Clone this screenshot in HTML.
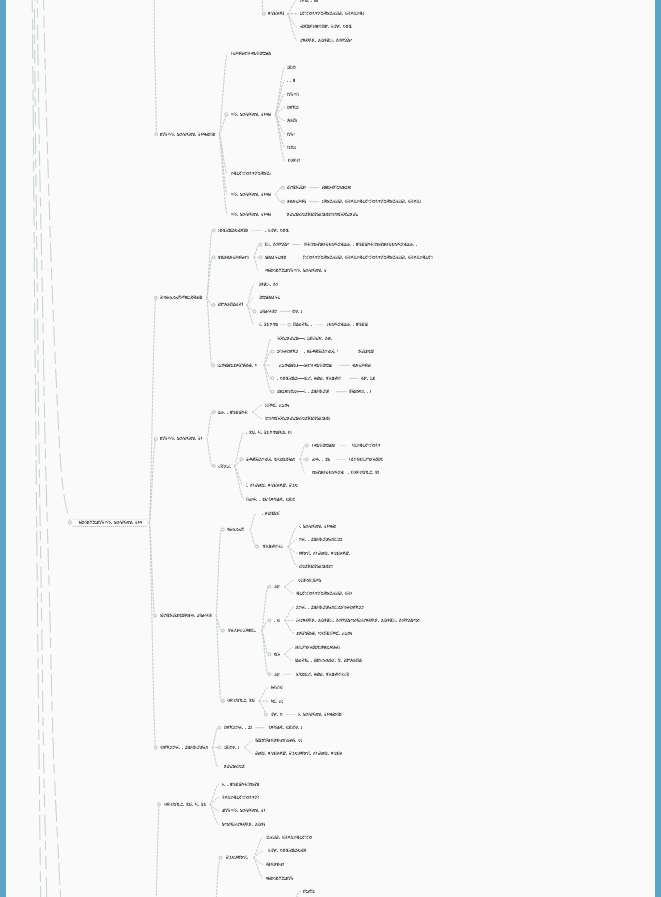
<!DOCTYPE html>
<html><head><meta charset="utf-8"><title>mindmap</title>
<style>
html,body{margin:0;padding:0;background:#fafafa;}
body{width:661px;height:897px;overflow:hidden;position:relative;font-family:"Liberation Sans",sans-serif;}
.bar{position:absolute;top:0;height:897px;background:#5ca3c4;}
svg{position:absolute;left:0;top:0;}
</style></head><body>
<svg width="661" height="897" viewBox="0 0 661 897"><defs><pattern id="tp00" patternUnits="userSpaceOnUse" x="0" y="0" width="63" height="4"><g fill="#333333"><path fill-opacity="0.1" d="M0 1h1v1h-1zM3 2h1v1h-1zM3 3h1v1h-1zM5 0h1v1h-1zM9 0h1v1h-1zM9 1h1v1h-1zM10 0h1v1h-1zM12 0h1v1h-1zM13 0h1v1h-1zM13 1h1v1h-1zM13 3h1v1h-1zM19 0h1v1h-1zM21 3h1v1h-1zM22 0h1v1h-1zM22 2h1v1h-1zM24 0h1v1h-1zM26 0h1v1h-1zM27 2h1v1h-1zM28 0h1v1h-1zM28 3h1v1h-1zM30 2h1v1h-1zM32 0h1v1h-1zM33 1h1v1h-1zM35 0h1v1h-1zM36 2h1v1h-1zM36 3h1v1h-1zM40 0h1v1h-1zM40 1h1v1h-1zM42 3h1v1h-1zM43 3h1v1h-1zM45 2h1v1h-1zM45 3h1v1h-1zM47 0h1v1h-1zM51 0h1v1h-1zM52 1h1v1h-1zM53 0h1v1h-1zM54 2h1v1h-1zM57 3h1v1h-1zM58 1h1v1h-1zM59 0h1v1h-1zM60 0h1v1h-1zM60 3h1v1h-1zM61 0h1v1h-1zM61 3h1v1h-1z"/><path fill-opacity="0.52" d="M0 2h1v1h-1zM0 3h1v1h-1zM1 2h1v1h-1zM9 2h1v1h-1zM10 2h1v1h-1zM13 2h1v1h-1zM15 1h1v1h-1zM16 3h1v1h-1zM18 3h1v1h-1zM21 2h1v1h-1zM22 1h1v1h-1zM25 3h1v1h-1zM31 3h1v1h-1zM36 1h1v1h-1zM37 2h1v1h-1zM39 2h1v1h-1zM40 3h1v1h-1zM42 1h1v1h-1zM43 1h1v1h-1zM46 1h1v1h-1zM46 3h1v1h-1zM51 3h1v1h-1zM54 1h1v1h-1zM54 3h1v1h-1zM55 2h1v1h-1zM57 1h1v1h-1zM60 1h1v1h-1z"/><path fill-opacity="0.78" d="M1 1h1v1h-1zM3 1h1v1h-1zM4 2h1v1h-1zM4 3h1v1h-1zM10 3h1v1h-1zM12 1h1v1h-1zM12 2h1v1h-1zM15 2h1v1h-1zM16 1h1v1h-1zM16 2h1v1h-1zM18 2h1v1h-1zM19 1h1v1h-1zM19 3h1v1h-1zM24 1h1v1h-1zM24 2h1v1h-1zM24 3h1v1h-1zM25 1h1v1h-1zM27 1h1v1h-1zM28 1h1v1h-1zM30 1h1v1h-1zM30 3h1v1h-1zM31 1h1v1h-1zM33 3h1v1h-1zM34 1h1v1h-1zM34 2h1v1h-1zM34 3h1v1h-1zM37 3h1v1h-1zM40 2h1v1h-1zM51 1h1v1h-1zM52 2h1v1h-1zM52 3h1v1h-1zM55 1h1v1h-1zM58 2h1v1h-1zM58 3h1v1h-1zM61 1h1v1h-1zM61 2h1v1h-1z"/><path fill-opacity="0.3" d="M1 3h1v1h-1zM4 1h1v1h-1zM9 3h1v1h-1zM10 1h1v1h-1zM12 3h1v1h-1zM15 3h1v1h-1zM18 1h1v1h-1zM19 2h1v1h-1zM21 1h1v1h-1zM22 3h1v1h-1zM25 2h1v1h-1zM27 3h1v1h-1zM28 2h1v1h-1zM31 2h1v1h-1zM33 2h1v1h-1zM37 1h1v1h-1zM39 1h1v1h-1zM39 3h1v1h-1zM42 2h1v1h-1zM43 2h1v1h-1zM45 1h1v1h-1zM46 2h1v1h-1zM51 2h1v1h-1zM55 3h1v1h-1zM57 2h1v1h-1zM60 2h1v1h-1z"/><path fill-opacity="0.7" d="M2 1h1v1h-1zM2 3h1v1h-1zM5 1h1v1h-1zM14 1h1v1h-1zM17 2h1v1h-1zM20 1h1v1h-1zM32 3h1v1h-1zM35 1h1v1h-1zM38 1h1v1h-1zM47 2h1v1h-1z"/><path fill-opacity="0.45" d="M2 2h1v1h-1zM5 2h1v1h-1zM5 3h1v1h-1zM14 2h1v1h-1zM17 3h1v1h-1zM20 3h1v1h-1zM23 2h1v1h-1zM23 3h1v1h-1zM32 1h1v1h-1zM35 2h1v1h-1zM35 3h1v1h-1zM44 2h1v1h-1zM53 2h1v1h-1zM53 3h1v1h-1zM56 2h1v1h-1zM59 1h1v1h-1zM59 2h1v1h-1zM59 3h1v1h-1zM62 3h1v1h-1z"/><path fill-opacity="0.6" d="M6 3h1v1h-1zM48 3h1v1h-1z"/><path fill-opacity="0.06" d="M11 1h1v1h-1zM11 2h1v1h-1zM11 3h1v1h-1zM14 3h1v1h-1zM17 1h1v1h-1zM23 1h1v1h-1zM26 1h1v1h-1zM29 1h1v1h-1zM29 2h1v1h-1zM32 2h1v1h-1zM38 2h1v1h-1zM38 3h1v1h-1zM41 1h1v1h-1zM41 2h1v1h-1zM41 3h1v1h-1zM47 1h1v1h-1zM47 3h1v1h-1zM56 1h1v1h-1zM62 1h1v1h-1z"/><path fill-opacity="0.25" d="M18 0h1v1h-1zM20 2h1v1h-1zM23 0h1v1h-1zM26 2h1v1h-1zM26 3h1v1h-1zM27 0h1v1h-1zM29 0h1v1h-1zM29 3h1v1h-1zM30 0h1v1h-1zM36 0h1v1h-1zM38 0h1v1h-1zM39 0h1v1h-1zM44 1h1v1h-1zM44 3h1v1h-1zM45 0h1v1h-1zM53 1h1v1h-1zM56 3h1v1h-1zM57 0h1v1h-1zM62 0h1v1h-1zM62 2h1v1h-1z"/></g></pattern><pattern id="tp01" patternUnits="userSpaceOnUse" x="17" y="0" width="63" height="4"><g fill="#333333"><path fill-opacity="0.25" d="M0 0h1v1h-1zM2 1h1v1h-1zM2 2h1v1h-1zM2 3h1v1h-1zM4 0h1v1h-1zM5 0h1v1h-1zM5 3h1v1h-1zM8 0h1v1h-1zM8 1h1v1h-1zM8 2h1v1h-1zM11 1h1v1h-1zM14 0h1v1h-1zM14 1h1v1h-1zM14 2h1v1h-1zM15 0h1v1h-1zM16 0h1v1h-1zM17 0h1v1h-1zM17 1h1v1h-1zM20 1h1v1h-1zM20 3h1v1h-1zM23 1h1v1h-1zM23 2h1v1h-1zM23 3h1v1h-1zM30 0h1v1h-1zM35 3h1v1h-1zM38 1h1v1h-1zM41 0h1v1h-1zM47 3h1v1h-1zM49 0h1v1h-1zM53 1h1v1h-1zM53 2h1v1h-1zM53 3h1v1h-1zM59 0h1v1h-1z"/><path fill-opacity="0.78" d="M0 1h1v1h-1zM0 3h1v1h-1zM1 1h1v1h-1zM1 2h1v1h-1zM1 3h1v1h-1zM3 2h1v1h-1zM4 1h1v1h-1zM7 1h1v1h-1zM10 2h1v1h-1zM15 2h1v1h-1zM16 3h1v1h-1zM18 3h1v1h-1zM19 2h1v1h-1zM21 3h1v1h-1zM28 2h1v1h-1zM31 2h1v1h-1zM34 1h1v1h-1zM34 3h1v1h-1zM36 3h1v1h-1zM40 1h1v1h-1zM45 2h1v1h-1zM46 1h1v1h-1zM46 2h1v1h-1zM48 2h1v1h-1zM48 3h1v1h-1zM49 1h1v1h-1zM51 2h1v1h-1zM51 3h1v1h-1zM57 1h1v1h-1zM58 1h1v1h-1zM58 2h1v1h-1zM61 2h1v1h-1z"/><path fill-opacity="0.52" d="M0 2h1v1h-1zM3 3h1v1h-1zM4 2h1v1h-1zM6 2h1v1h-1zM12 2h1v1h-1zM13 3h1v1h-1zM16 1h1v1h-1zM18 1h1v1h-1zM19 1h1v1h-1zM22 2h1v1h-1zM22 3h1v1h-1zM27 1h1v1h-1zM27 3h1v1h-1zM28 3h1v1h-1zM30 1h1v1h-1zM31 1h1v1h-1zM33 2h1v1h-1zM33 3h1v1h-1zM36 1h1v1h-1zM36 2h1v1h-1zM37 3h1v1h-1zM39 2h1v1h-1zM39 3h1v1h-1zM45 3h1v1h-1zM49 2h1v1h-1zM49 3h1v1h-1zM52 1h1v1h-1zM52 3h1v1h-1zM57 2h1v1h-1zM58 3h1v1h-1zM60 1h1v1h-1zM60 2h1v1h-1zM60 3h1v1h-1z"/><path fill-opacity="0.3" d="M3 1h1v1h-1zM4 3h1v1h-1zM6 1h1v1h-1zM6 3h1v1h-1zM7 3h1v1h-1zM9 2h1v1h-1zM10 1h1v1h-1zM10 3h1v1h-1zM12 3h1v1h-1zM15 1h1v1h-1zM15 3h1v1h-1zM16 2h1v1h-1zM19 3h1v1h-1zM27 2h1v1h-1zM28 1h1v1h-1zM30 2h1v1h-1zM31 3h1v1h-1zM33 1h1v1h-1zM34 2h1v1h-1zM37 1h1v1h-1zM37 2h1v1h-1zM45 1h1v1h-1zM46 3h1v1h-1zM48 1h1v1h-1zM52 2h1v1h-1zM57 3h1v1h-1zM61 1h1v1h-1z"/><path fill-opacity="0.45" d="M5 1h1v1h-1zM5 2h1v1h-1zM11 3h1v1h-1zM29 3h1v1h-1zM35 1h1v1h-1zM35 2h1v1h-1zM38 3h1v1h-1zM41 1h1v1h-1zM41 3h1v1h-1zM50 2h1v1h-1zM50 3h1v1h-1zM62 3h1v1h-1z"/><path fill-opacity="0.1" d="M7 2h1v1h-1zM9 1h1v1h-1zM9 3h1v1h-1zM10 0h1v1h-1zM12 1h1v1h-1zM13 0h1v1h-1zM13 1h1v1h-1zM13 2h1v1h-1zM18 2h1v1h-1zM19 0h1v1h-1zM21 0h1v1h-1zM21 1h1v1h-1zM21 2h1v1h-1zM22 1h1v1h-1zM23 0h1v1h-1zM27 0h1v1h-1zM28 0h1v1h-1zM29 0h1v1h-1zM30 3h1v1h-1zM31 0h1v1h-1zM33 0h1v1h-1zM35 0h1v1h-1zM36 0h1v1h-1zM37 0h1v1h-1zM39 1h1v1h-1zM40 2h1v1h-1zM40 3h1v1h-1zM45 0h1v1h-1zM48 0h1v1h-1zM51 1h1v1h-1zM53 0h1v1h-1zM58 0h1v1h-1zM61 3h1v1h-1z"/><path fill-opacity="0.06" d="M8 3h1v1h-1zM11 2h1v1h-1zM14 3h1v1h-1zM17 2h1v1h-1zM17 3h1v1h-1zM20 2h1v1h-1zM29 1h1v1h-1zM29 2h1v1h-1zM32 2h1v1h-1zM38 2h1v1h-1zM41 2h1v1h-1zM47 1h1v1h-1zM59 1h1v1h-1zM59 2h1v1h-1zM59 3h1v1h-1zM62 1h1v1h-1zM62 2h1v1h-1z"/><path fill-opacity="0.6" d="M24 3h1v1h-1zM42 3h1v1h-1zM54 3h1v1h-1z"/><path fill-opacity="0.7" d="M32 1h1v1h-1zM32 3h1v1h-1zM47 2h1v1h-1zM50 1h1v1h-1z"/></g></pattern><pattern id="tp02" patternUnits="userSpaceOnUse" x="34" y="0" width="63" height="4"><g fill="#333333"><path fill-opacity="0.3" d="M0 1h1v1h-1zM0 2h1v1h-1zM0 3h1v1h-1zM1 1h1v1h-1zM3 2h1v1h-1zM6 1h1v1h-1zM6 2h1v1h-1zM9 3h1v1h-1zM10 3h1v1h-1zM12 1h1v1h-1zM16 1h1v1h-1zM22 2h1v1h-1zM25 2h1v1h-1zM27 2h1v1h-1zM28 2h1v1h-1zM28 3h1v1h-1zM30 1h1v1h-1zM33 3h1v1h-1zM34 1h1v1h-1zM39 1h1v1h-1zM39 2h1v1h-1zM40 2h1v1h-1zM48 3h1v1h-1zM55 1h1v1h-1zM55 3h1v1h-1zM58 1h1v1h-1zM58 2h1v1h-1zM60 2h1v1h-1zM61 1h1v1h-1z"/><path fill-opacity="0.1" d="M1 0h1v1h-1zM2 0h1v1h-1zM3 0h1v1h-1zM3 1h1v1h-1zM7 0h1v1h-1zM9 2h1v1h-1zM12 0h1v1h-1zM12 3h1v1h-1zM13 0h1v1h-1zM14 0h1v1h-1zM15 0h1v1h-1zM16 3h1v1h-1zM21 0h1v1h-1zM21 2h1v1h-1zM22 0h1v1h-1zM22 1h1v1h-1zM24 0h1v1h-1zM26 0h1v1h-1zM27 1h1v1h-1zM28 1h1v1h-1zM29 0h1v1h-1zM31 1h1v1h-1zM31 2h1v1h-1zM33 0h1v1h-1zM35 0h1v1h-1zM40 0h1v1h-1zM44 0h1v1h-1zM51 1h1v1h-1zM51 2h1v1h-1zM54 0h1v1h-1zM59 0h1v1h-1z"/><path fill-opacity="0.78" d="M1 2h1v1h-1zM6 3h1v1h-1zM7 1h1v1h-1zM7 2h1v1h-1zM10 1h1v1h-1zM12 2h1v1h-1zM15 1h1v1h-1zM15 2h1v1h-1zM15 3h1v1h-1zM21 3h1v1h-1zM24 1h1v1h-1zM24 2h1v1h-1zM27 3h1v1h-1zM30 2h1v1h-1zM30 3h1v1h-1zM31 3h1v1h-1zM33 1h1v1h-1zM33 2h1v1h-1zM39 3h1v1h-1zM40 1h1v1h-1zM42 3h1v1h-1zM43 1h1v1h-1zM43 2h1v1h-1zM48 1h1v1h-1zM49 1h1v1h-1zM49 2h1v1h-1zM54 3h1v1h-1zM58 3h1v1h-1zM60 1h1v1h-1zM60 3h1v1h-1zM61 2h1v1h-1zM61 3h1v1h-1z"/><path fill-opacity="0.52" d="M1 3h1v1h-1zM3 3h1v1h-1zM4 1h1v1h-1zM4 2h1v1h-1zM4 3h1v1h-1zM7 3h1v1h-1zM9 1h1v1h-1zM10 2h1v1h-1zM13 1h1v1h-1zM13 2h1v1h-1zM13 3h1v1h-1zM16 2h1v1h-1zM21 1h1v1h-1zM22 3h1v1h-1zM24 3h1v1h-1zM25 1h1v1h-1zM25 3h1v1h-1zM34 2h1v1h-1zM34 3h1v1h-1zM40 3h1v1h-1zM42 1h1v1h-1zM42 2h1v1h-1zM43 3h1v1h-1zM48 2h1v1h-1zM49 3h1v1h-1zM51 3h1v1h-1zM52 1h1v1h-1zM52 2h1v1h-1zM52 3h1v1h-1zM54 1h1v1h-1zM54 2h1v1h-1zM55 2h1v1h-1zM57 1h1v1h-1zM57 2h1v1h-1zM57 3h1v1h-1z"/><path fill-opacity="0.7" d="M2 1h1v1h-1zM11 2h1v1h-1zM17 1h1v1h-1zM23 3h1v1h-1zM50 2h1v1h-1zM59 2h1v1h-1zM59 3h1v1h-1z"/><path fill-opacity="0.45" d="M2 2h1v1h-1zM8 1h1v1h-1zM14 3h1v1h-1zM26 2h1v1h-1zM29 1h1v1h-1zM32 1h1v1h-1zM35 1h1v1h-1zM41 2h1v1h-1zM44 2h1v1h-1zM50 1h1v1h-1zM53 2h1v1h-1zM53 3h1v1h-1zM56 1h1v1h-1zM62 3h1v1h-1z"/><path fill-opacity="0.25" d="M2 3h1v1h-1zM5 1h1v1h-1zM6 0h1v1h-1zM8 0h1v1h-1zM8 3h1v1h-1zM11 0h1v1h-1zM11 3h1v1h-1zM14 1h1v1h-1zM14 2h1v1h-1zM16 0h1v1h-1zM23 2h1v1h-1zM25 0h1v1h-1zM26 1h1v1h-1zM28 0h1v1h-1zM29 2h1v1h-1zM29 3h1v1h-1zM32 0h1v1h-1zM32 2h1v1h-1zM32 3h1v1h-1zM41 3h1v1h-1zM44 1h1v1h-1zM57 0h1v1h-1zM62 1h1v1h-1z"/><path fill-opacity="0.06" d="M5 2h1v1h-1zM5 3h1v1h-1zM8 2h1v1h-1zM11 1h1v1h-1zM17 2h1v1h-1zM17 3h1v1h-1zM23 1h1v1h-1zM26 3h1v1h-1zM35 2h1v1h-1zM35 3h1v1h-1zM41 1h1v1h-1zM44 3h1v1h-1zM50 3h1v1h-1zM53 1h1v1h-1zM56 2h1v1h-1zM56 3h1v1h-1zM59 1h1v1h-1zM62 2h1v1h-1z"/><path fill-opacity="0.6" d="M18 3h1v1h-1zM36 3h1v1h-1zM45 3h1v1h-1z"/></g></pattern><pattern id="tp03" patternUnits="userSpaceOnUse" x="51" y="0" width="63" height="4"><g fill="#333333"><path fill-opacity="0.3" d="M0 1h1v1h-1zM1 1h1v1h-1zM3 2h1v1h-1zM4 1h1v1h-1zM7 3h1v1h-1zM10 2h1v1h-1zM12 2h1v1h-1zM19 2h1v1h-1zM22 3h1v1h-1zM24 1h1v1h-1zM24 3h1v1h-1zM25 2h1v1h-1zM27 1h1v1h-1zM28 1h1v1h-1zM30 3h1v1h-1zM31 1h1v1h-1zM37 2h1v1h-1zM39 2h1v1h-1zM40 1h1v1h-1zM45 1h1v1h-1zM45 2h1v1h-1zM46 1h1v1h-1zM51 2h1v1h-1zM51 3h1v1h-1zM54 1h1v1h-1zM55 1h1v1h-1zM58 2h1v1h-1zM61 1h1v1h-1z"/><path fill-opacity="0.52" d="M0 2h1v1h-1zM0 3h1v1h-1zM1 3h1v1h-1zM3 3h1v1h-1zM4 2h1v1h-1zM4 3h1v1h-1zM6 1h1v1h-1zM7 1h1v1h-1zM10 3h1v1h-1zM12 1h1v1h-1zM12 3h1v1h-1zM13 3h1v1h-1zM18 1h1v1h-1zM18 2h1v1h-1zM18 3h1v1h-1zM21 3h1v1h-1zM22 2h1v1h-1zM27 2h1v1h-1zM28 3h1v1h-1zM30 1h1v1h-1zM30 2h1v1h-1zM31 3h1v1h-1zM36 2h1v1h-1zM36 3h1v1h-1zM39 1h1v1h-1zM40 2h1v1h-1zM46 2h1v1h-1zM51 1h1v1h-1zM52 1h1v1h-1zM52 2h1v1h-1zM52 3h1v1h-1zM54 3h1v1h-1zM55 3h1v1h-1zM57 2h1v1h-1zM57 3h1v1h-1zM61 2h1v1h-1z"/><path fill-opacity="0.1" d="M1 2h1v1h-1zM3 1h1v1h-1zM6 0h1v1h-1zM6 3h1v1h-1zM10 0h1v1h-1zM11 0h1v1h-1zM12 0h1v1h-1zM13 0h1v1h-1zM13 1h1v1h-1zM13 2h1v1h-1zM14 0h1v1h-1zM19 0h1v1h-1zM19 1h1v1h-1zM22 0h1v1h-1zM22 1h1v1h-1zM24 2h1v1h-1zM26 0h1v1h-1zM27 0h1v1h-1zM27 3h1v1h-1zM29 0h1v1h-1zM31 0h1v1h-1zM32 0h1v1h-1zM37 1h1v1h-1zM39 0h1v1h-1zM40 3h1v1h-1zM46 0h1v1h-1zM47 0h1v1h-1zM51 0h1v1h-1zM55 0h1v1h-1zM56 0h1v1h-1zM57 1h1v1h-1zM58 0h1v1h-1zM58 3h1v1h-1zM59 0h1v1h-1zM61 3h1v1h-1zM62 0h1v1h-1z"/><path fill-opacity="0.25" d="M2 1h1v1h-1zM5 0h1v1h-1zM7 0h1v1h-1zM8 3h1v1h-1zM14 2h1v1h-1zM20 0h1v1h-1zM20 1h1v1h-1zM23 2h1v1h-1zM24 0h1v1h-1zM25 0h1v1h-1zM26 1h1v1h-1zM26 3h1v1h-1zM28 0h1v1h-1zM30 0h1v1h-1zM32 3h1v1h-1zM37 0h1v1h-1zM38 3h1v1h-1zM40 0h1v1h-1zM45 0h1v1h-1zM53 0h1v1h-1zM53 2h1v1h-1zM56 3h1v1h-1zM62 1h1v1h-1z"/><path fill-opacity="0.06" d="M2 2h1v1h-1zM2 3h1v1h-1zM5 1h1v1h-1zM5 2h1v1h-1zM14 1h1v1h-1zM20 3h1v1h-1zM26 2h1v1h-1zM29 2h1v1h-1zM32 1h1v1h-1zM32 2h1v1h-1zM41 1h1v1h-1zM41 3h1v1h-1zM53 3h1v1h-1zM56 1h1v1h-1zM56 2h1v1h-1zM59 1h1v1h-1zM59 2h1v1h-1zM62 3h1v1h-1z"/><path fill-opacity="0.45" d="M5 3h1v1h-1zM8 1h1v1h-1zM11 1h1v1h-1zM11 2h1v1h-1zM11 3h1v1h-1zM14 3h1v1h-1zM20 2h1v1h-1zM23 1h1v1h-1zM29 3h1v1h-1zM38 1h1v1h-1zM38 2h1v1h-1zM41 2h1v1h-1zM47 3h1v1h-1zM53 1h1v1h-1zM59 3h1v1h-1z"/><path fill-opacity="0.78" d="M6 2h1v1h-1zM7 2h1v1h-1zM9 1h1v1h-1zM9 2h1v1h-1zM9 3h1v1h-1zM10 1h1v1h-1zM19 3h1v1h-1zM21 1h1v1h-1zM21 2h1v1h-1zM25 1h1v1h-1zM25 3h1v1h-1zM28 2h1v1h-1zM31 2h1v1h-1zM36 1h1v1h-1zM37 3h1v1h-1zM39 3h1v1h-1zM45 3h1v1h-1zM46 3h1v1h-1zM54 2h1v1h-1zM55 2h1v1h-1zM58 1h1v1h-1zM60 1h1v1h-1zM60 2h1v1h-1zM60 3h1v1h-1z"/><path fill-opacity="0.7" d="M8 2h1v1h-1zM23 3h1v1h-1zM29 1h1v1h-1zM47 1h1v1h-1zM47 2h1v1h-1zM62 2h1v1h-1z"/><path fill-opacity="0.6" d="M15 3h1v1h-1zM33 3h1v1h-1zM42 3h1v1h-1zM48 3h1v1h-1z"/></g></pattern><pattern id="tp04" patternUnits="userSpaceOnUse" x="5" y="0" width="63" height="4"><g fill="#333333"><path fill-opacity="0.52" d="M0 1h1v1h-1zM0 2h1v1h-1zM0 3h1v1h-1zM3 1h1v1h-1zM6 1h1v1h-1zM6 2h1v1h-1zM7 2h1v1h-1zM9 1h1v1h-1zM12 1h1v1h-1zM13 1h1v1h-1zM13 2h1v1h-1zM13 3h1v1h-1zM16 1h1v1h-1zM16 3h1v1h-1zM18 3h1v1h-1zM19 1h1v1h-1zM19 2h1v1h-1zM24 1h1v1h-1zM25 1h1v1h-1zM25 2h1v1h-1zM25 3h1v1h-1zM27 2h1v1h-1zM33 2h1v1h-1zM34 1h1v1h-1zM36 2h1v1h-1zM39 2h1v1h-1zM42 3h1v1h-1zM43 1h1v1h-1zM43 3h1v1h-1zM45 1h1v1h-1zM45 2h1v1h-1zM46 1h1v1h-1zM49 2h1v1h-1zM49 3h1v1h-1zM51 3h1v1h-1zM52 1h1v1h-1zM54 2h1v1h-1zM55 2h1v1h-1zM58 1h1v1h-1zM58 2h1v1h-1zM60 1h1v1h-1zM61 3h1v1h-1z"/><path fill-opacity="0.1" d="M1 0h1v1h-1zM1 1h1v1h-1zM1 2h1v1h-1zM3 0h1v1h-1zM4 0h1v1h-1zM8 0h1v1h-1zM10 2h1v1h-1zM11 0h1v1h-1zM12 2h1v1h-1zM15 0h1v1h-1zM15 3h1v1h-1zM18 0h1v1h-1zM19 0h1v1h-1zM21 0h1v1h-1zM22 1h1v1h-1zM24 0h1v1h-1zM24 3h1v1h-1zM27 1h1v1h-1zM28 0h1v1h-1zM28 1h1v1h-1zM28 2h1v1h-1zM32 0h1v1h-1zM33 1h1v1h-1zM34 0h1v1h-1zM36 1h1v1h-1zM37 0h1v1h-1zM37 1h1v1h-1zM39 0h1v1h-1zM40 0h1v1h-1zM42 1h1v1h-1zM43 2h1v1h-1zM45 3h1v1h-1zM46 2h1v1h-1zM49 0h1v1h-1zM52 0h1v1h-1zM54 0h1v1h-1zM55 0h1v1h-1zM61 0h1v1h-1zM61 1h1v1h-1zM62 0h1v1h-1z"/><path fill-opacity="0.3" d="M1 3h1v1h-1zM3 2h1v1h-1zM6 3h1v1h-1zM9 2h1v1h-1zM10 3h1v1h-1zM12 3h1v1h-1zM15 2h1v1h-1zM16 2h1v1h-1zM18 2h1v1h-1zM21 1h1v1h-1zM21 3h1v1h-1zM22 3h1v1h-1zM30 2h1v1h-1zM31 3h1v1h-1zM34 2h1v1h-1zM37 2h1v1h-1zM40 1h1v1h-1zM48 1h1v1h-1zM48 2h1v1h-1zM52 3h1v1h-1zM55 1h1v1h-1zM57 1h1v1h-1zM57 2h1v1h-1zM57 3h1v1h-1zM60 2h1v1h-1z"/><path fill-opacity="0.7" d="M2 1h1v1h-1zM17 1h1v1h-1zM17 2h1v1h-1zM23 3h1v1h-1zM26 1h1v1h-1zM38 1h1v1h-1zM56 1h1v1h-1zM59 1h1v1h-1zM62 2h1v1h-1zM62 3h1v1h-1z"/><path fill-opacity="0.06" d="M2 2h1v1h-1zM5 1h1v1h-1zM20 1h1v1h-1zM20 2h1v1h-1zM23 2h1v1h-1zM26 2h1v1h-1zM32 1h1v1h-1zM32 2h1v1h-1zM32 3h1v1h-1zM35 3h1v1h-1zM38 2h1v1h-1zM50 2h1v1h-1zM53 1h1v1h-1zM56 2h1v1h-1zM59 3h1v1h-1z"/><path fill-opacity="0.45" d="M2 3h1v1h-1zM5 3h1v1h-1zM8 2h1v1h-1zM11 1h1v1h-1zM26 3h1v1h-1zM29 1h1v1h-1zM29 3h1v1h-1zM35 1h1v1h-1zM41 1h1v1h-1zM41 2h1v1h-1zM44 3h1v1h-1zM47 1h1v1h-1zM47 3h1v1h-1zM56 3h1v1h-1z"/><path fill-opacity="0.78" d="M3 3h1v1h-1zM4 1h1v1h-1zM4 2h1v1h-1zM4 3h1v1h-1zM7 1h1v1h-1zM7 3h1v1h-1zM9 3h1v1h-1zM10 1h1v1h-1zM15 1h1v1h-1zM18 1h1v1h-1zM19 3h1v1h-1zM21 2h1v1h-1zM22 2h1v1h-1zM24 2h1v1h-1zM27 3h1v1h-1zM28 3h1v1h-1zM30 1h1v1h-1zM30 3h1v1h-1zM31 1h1v1h-1zM31 2h1v1h-1zM33 3h1v1h-1zM34 3h1v1h-1zM36 3h1v1h-1zM37 3h1v1h-1zM39 1h1v1h-1zM39 3h1v1h-1zM40 2h1v1h-1zM40 3h1v1h-1zM42 2h1v1h-1zM46 3h1v1h-1zM48 3h1v1h-1zM49 1h1v1h-1zM51 1h1v1h-1zM51 2h1v1h-1zM52 2h1v1h-1zM54 1h1v1h-1zM54 3h1v1h-1zM55 3h1v1h-1zM58 3h1v1h-1zM60 3h1v1h-1zM61 2h1v1h-1z"/><path fill-opacity="0.25" d="M5 2h1v1h-1zM7 0h1v1h-1zM8 1h1v1h-1zM8 3h1v1h-1zM11 2h1v1h-1zM11 3h1v1h-1zM14 1h1v1h-1zM14 2h1v1h-1zM14 3h1v1h-1zM17 3h1v1h-1zM20 0h1v1h-1zM20 3h1v1h-1zM23 0h1v1h-1zM23 1h1v1h-1zM26 0h1v1h-1zM29 2h1v1h-1zM35 0h1v1h-1zM35 2h1v1h-1zM38 3h1v1h-1zM41 3h1v1h-1zM44 0h1v1h-1zM44 1h1v1h-1zM44 2h1v1h-1zM47 2h1v1h-1zM50 0h1v1h-1zM50 1h1v1h-1zM50 3h1v1h-1zM51 0h1v1h-1zM53 0h1v1h-1zM53 2h1v1h-1zM53 3h1v1h-1zM57 0h1v1h-1zM58 0h1v1h-1zM59 2h1v1h-1zM60 0h1v1h-1zM62 1h1v1h-1z"/></g></pattern><pattern id="tp05" patternUnits="userSpaceOnUse" x="22" y="0" width="63" height="4"><g fill="#333333"><path fill-opacity="0.3" d="M0 1h1v1h-1zM6 3h1v1h-1zM12 2h1v1h-1zM15 3h1v1h-1zM21 1h1v1h-1zM21 2h1v1h-1zM22 2h1v1h-1zM24 3h1v1h-1zM25 1h1v1h-1zM27 3h1v1h-1zM30 3h1v1h-1zM36 3h1v1h-1zM37 2h1v1h-1zM45 2h1v1h-1zM48 1h1v1h-1zM49 2h1v1h-1zM52 3h1v1h-1zM57 1h1v1h-1zM57 3h1v1h-1zM58 1h1v1h-1zM60 1h1v1h-1zM60 2h1v1h-1zM60 3h1v1h-1zM61 2h1v1h-1z"/><path fill-opacity="0.78" d="M0 2h1v1h-1zM0 3h1v1h-1zM1 1h1v1h-1zM6 1h1v1h-1zM9 1h1v1h-1zM9 3h1v1h-1zM10 1h1v1h-1zM12 1h1v1h-1zM13 1h1v1h-1zM13 2h1v1h-1zM13 3h1v1h-1zM16 2h1v1h-1zM18 1h1v1h-1zM18 3h1v1h-1zM19 1h1v1h-1zM19 3h1v1h-1zM21 3h1v1h-1zM22 1h1v1h-1zM24 1h1v1h-1zM24 2h1v1h-1zM25 3h1v1h-1zM27 2h1v1h-1zM28 3h1v1h-1zM30 2h1v1h-1zM31 1h1v1h-1zM33 3h1v1h-1zM34 1h1v1h-1zM36 2h1v1h-1zM39 3h1v1h-1zM42 1h1v1h-1zM42 2h1v1h-1zM42 3h1v1h-1zM43 1h1v1h-1zM43 2h1v1h-1zM49 1h1v1h-1zM51 1h1v1h-1zM51 2h1v1h-1zM51 3h1v1h-1zM52 1h1v1h-1zM61 3h1v1h-1z"/><path fill-opacity="0.52" d="M1 2h1v1h-1zM6 2h1v1h-1zM7 1h1v1h-1zM7 3h1v1h-1zM9 2h1v1h-1zM10 2h1v1h-1zM10 3h1v1h-1zM12 3h1v1h-1zM15 2h1v1h-1zM16 3h1v1h-1zM18 2h1v1h-1zM19 2h1v1h-1zM22 3h1v1h-1zM28 1h1v1h-1zM28 2h1v1h-1zM30 1h1v1h-1zM31 2h1v1h-1zM31 3h1v1h-1zM33 1h1v1h-1zM33 2h1v1h-1zM34 2h1v1h-1zM34 3h1v1h-1zM36 1h1v1h-1zM37 1h1v1h-1zM39 1h1v1h-1zM39 2h1v1h-1zM40 2h1v1h-1zM43 3h1v1h-1zM45 1h1v1h-1zM46 1h1v1h-1zM46 3h1v1h-1zM48 2h1v1h-1zM48 3h1v1h-1zM49 3h1v1h-1zM52 2h1v1h-1zM57 2h1v1h-1zM58 2h1v1h-1zM58 3h1v1h-1zM61 1h1v1h-1z"/><path fill-opacity="0.1" d="M1 3h1v1h-1zM2 0h1v1h-1zM7 2h1v1h-1zM8 0h1v1h-1zM9 0h1v1h-1zM10 0h1v1h-1zM11 0h1v1h-1zM12 0h1v1h-1zM13 0h1v1h-1zM14 0h1v1h-1zM15 1h1v1h-1zM16 1h1v1h-1zM17 0h1v1h-1zM18 0h1v1h-1zM20 0h1v1h-1zM21 0h1v1h-1zM22 0h1v1h-1zM23 0h1v1h-1zM24 0h1v1h-1zM25 2h1v1h-1zM27 1h1v1h-1zM29 0h1v1h-1zM30 0h1v1h-1zM31 0h1v1h-1zM34 0h1v1h-1zM35 0h1v1h-1zM37 3h1v1h-1zM38 0h1v1h-1zM40 1h1v1h-1zM40 3h1v1h-1zM44 0h1v1h-1zM45 3h1v1h-1zM46 0h1v1h-1zM46 2h1v1h-1zM49 0h1v1h-1zM50 0h1v1h-1zM53 0h1v1h-1zM57 0h1v1h-1zM58 0h1v1h-1z"/><path fill-opacity="0.45" d="M2 1h1v1h-1zM8 2h1v1h-1zM14 3h1v1h-1zM17 3h1v1h-1zM23 2h1v1h-1zM23 3h1v1h-1zM26 2h1v1h-1zM29 1h1v1h-1zM29 3h1v1h-1zM35 1h1v1h-1zM35 2h1v1h-1zM41 3h1v1h-1zM44 1h1v1h-1zM50 1h1v1h-1zM50 2h1v1h-1zM50 3h1v1h-1zM53 1h1v1h-1z"/><path fill-opacity="0.06" d="M2 2h1v1h-1zM8 1h1v1h-1zM8 3h1v1h-1zM11 1h1v1h-1zM11 3h1v1h-1zM14 1h1v1h-1zM14 2h1v1h-1zM17 2h1v1h-1zM23 1h1v1h-1zM26 1h1v1h-1zM32 2h1v1h-1zM38 2h1v1h-1zM38 3h1v1h-1zM47 3h1v1h-1zM53 2h1v1h-1zM53 3h1v1h-1zM59 1h1v1h-1zM59 2h1v1h-1zM62 3h1v1h-1z"/><path fill-opacity="0.25" d="M2 3h1v1h-1zM11 2h1v1h-1zM15 0h1v1h-1zM19 0h1v1h-1zM20 1h1v1h-1zM20 2h1v1h-1zM26 3h1v1h-1zM28 0h1v1h-1zM29 2h1v1h-1zM32 0h1v1h-1zM32 1h1v1h-1zM32 3h1v1h-1zM33 0h1v1h-1zM37 0h1v1h-1zM38 1h1v1h-1zM41 0h1v1h-1zM41 2h1v1h-1zM44 2h1v1h-1zM44 3h1v1h-1zM47 1h1v1h-1zM47 2h1v1h-1zM48 0h1v1h-1zM51 0h1v1h-1zM59 3h1v1h-1zM61 0h1v1h-1zM62 0h1v1h-1zM62 2h1v1h-1z"/><path fill-opacity="0.6" d="M3 3h1v1h-1zM54 3h1v1h-1z"/><path fill-opacity="0.7" d="M17 1h1v1h-1zM20 3h1v1h-1zM35 3h1v1h-1zM41 1h1v1h-1zM62 1h1v1h-1z"/></g></pattern><pattern id="tp10" patternUnits="userSpaceOnUse" x="0" y="1" width="63" height="4"><g fill="#333333"><path fill-opacity="0.25" d="M0 0h1v1h-1zM8 0h1v1h-1zM8 3h1v1h-1zM18 0h1v1h-1zM20 0h1v1h-1zM20 1h1v1h-1zM29 1h1v1h-1zM29 3h1v1h-1zM32 1h1v1h-1zM35 2h1v1h-1zM38 1h1v1h-1zM38 2h1v1h-1zM38 3h1v1h-1zM41 1h1v1h-1zM44 1h1v1h-1zM47 2h1v1h-1zM47 3h1v1h-1zM48 0h1v1h-1zM50 3h1v1h-1zM52 0h1v1h-1zM53 0h1v1h-1zM56 1h1v1h-1zM58 0h1v1h-1zM59 0h1v1h-1zM59 3h1v1h-1zM60 0h1v1h-1zM62 1h1v1h-1z"/><path fill-opacity="0.3" d="M0 1h1v1h-1zM0 3h1v1h-1zM6 3h1v1h-1zM7 1h1v1h-1zM15 1h1v1h-1zM16 3h1v1h-1zM18 2h1v1h-1zM21 1h1v1h-1zM21 2h1v1h-1zM21 3h1v1h-1zM24 3h1v1h-1zM25 2h1v1h-1zM27 2h1v1h-1zM31 2h1v1h-1zM33 3h1v1h-1zM36 1h1v1h-1zM39 2h1v1h-1zM40 2h1v1h-1zM42 1h1v1h-1zM42 3h1v1h-1zM45 1h1v1h-1zM45 2h1v1h-1zM46 3h1v1h-1zM48 2h1v1h-1zM49 1h1v1h-1zM52 3h1v1h-1zM55 2h1v1h-1zM57 2h1v1h-1zM57 3h1v1h-1zM58 2h1v1h-1zM60 2h1v1h-1zM60 3h1v1h-1z"/><path fill-opacity="0.52" d="M0 2h1v1h-1zM3 2h1v1h-1zM4 1h1v1h-1zM4 2h1v1h-1zM4 3h1v1h-1zM6 2h1v1h-1zM9 2h1v1h-1zM10 3h1v1h-1zM12 3h1v1h-1zM13 3h1v1h-1zM16 2h1v1h-1zM18 1h1v1h-1zM18 3h1v1h-1zM22 3h1v1h-1zM24 1h1v1h-1zM24 2h1v1h-1zM25 1h1v1h-1zM25 3h1v1h-1zM27 3h1v1h-1zM30 1h1v1h-1zM31 1h1v1h-1zM34 1h1v1h-1zM34 3h1v1h-1zM37 1h1v1h-1zM37 2h1v1h-1zM39 3h1v1h-1zM40 3h1v1h-1zM42 2h1v1h-1zM43 1h1v1h-1zM45 3h1v1h-1zM49 2h1v1h-1zM51 2h1v1h-1zM52 1h1v1h-1zM58 3h1v1h-1zM61 1h1v1h-1zM61 2h1v1h-1z"/><path fill-opacity="0.1" d="M1 0h1v1h-1zM1 1h1v1h-1zM1 2h1v1h-1zM4 0h1v1h-1zM6 1h1v1h-1zM7 0h1v1h-1zM9 0h1v1h-1zM11 0h1v1h-1zM12 0h1v1h-1zM13 2h1v1h-1zM14 0h1v1h-1zM15 3h1v1h-1zM16 1h1v1h-1zM19 0h1v1h-1zM19 3h1v1h-1zM21 0h1v1h-1zM22 2h1v1h-1zM24 0h1v1h-1zM26 0h1v1h-1zM29 0h1v1h-1zM30 0h1v1h-1zM30 2h1v1h-1zM36 0h1v1h-1zM36 2h1v1h-1zM36 3h1v1h-1zM39 0h1v1h-1zM40 0h1v1h-1zM43 2h1v1h-1zM46 2h1v1h-1zM47 0h1v1h-1zM52 2h1v1h-1zM54 2h1v1h-1zM55 1h1v1h-1zM60 1h1v1h-1zM61 0h1v1h-1z"/><path fill-opacity="0.78" d="M1 3h1v1h-1zM3 1h1v1h-1zM3 3h1v1h-1zM7 2h1v1h-1zM7 3h1v1h-1zM9 1h1v1h-1zM9 3h1v1h-1zM10 1h1v1h-1zM10 2h1v1h-1zM12 1h1v1h-1zM12 2h1v1h-1zM13 1h1v1h-1zM15 2h1v1h-1zM19 1h1v1h-1zM19 2h1v1h-1zM22 1h1v1h-1zM27 1h1v1h-1zM28 1h1v1h-1zM28 2h1v1h-1zM28 3h1v1h-1zM30 3h1v1h-1zM31 3h1v1h-1zM33 1h1v1h-1zM33 2h1v1h-1zM34 2h1v1h-1zM37 3h1v1h-1zM39 1h1v1h-1zM40 1h1v1h-1zM43 3h1v1h-1zM46 1h1v1h-1zM48 1h1v1h-1zM48 3h1v1h-1zM49 3h1v1h-1zM51 1h1v1h-1zM51 3h1v1h-1zM54 1h1v1h-1zM54 3h1v1h-1zM55 3h1v1h-1zM57 1h1v1h-1zM58 1h1v1h-1zM61 3h1v1h-1z"/><path fill-opacity="0.7" d="M2 1h1v1h-1zM2 2h1v1h-1zM11 2h1v1h-1zM11 3h1v1h-1zM14 3h1v1h-1zM17 2h1v1h-1zM23 3h1v1h-1zM26 3h1v1h-1zM29 2h1v1h-1zM35 1h1v1h-1zM41 3h1v1h-1zM56 2h1v1h-1zM59 1h1v1h-1z"/><path fill-opacity="0.45" d="M2 3h1v1h-1zM5 2h1v1h-1zM5 3h1v1h-1zM8 2h1v1h-1zM11 1h1v1h-1zM14 2h1v1h-1zM17 1h1v1h-1zM17 3h1v1h-1zM23 1h1v1h-1zM26 2h1v1h-1zM32 3h1v1h-1zM35 3h1v1h-1zM44 2h1v1h-1zM53 1h1v1h-1zM53 2h1v1h-1zM56 3h1v1h-1zM62 3h1v1h-1z"/><path fill-opacity="0.06" d="M5 1h1v1h-1zM8 1h1v1h-1zM14 1h1v1h-1zM20 2h1v1h-1zM20 3h1v1h-1zM23 2h1v1h-1zM26 1h1v1h-1zM32 2h1v1h-1zM41 2h1v1h-1zM44 3h1v1h-1zM47 1h1v1h-1zM50 1h1v1h-1zM50 2h1v1h-1zM53 3h1v1h-1zM59 2h1v1h-1zM62 2h1v1h-1z"/></g></pattern><pattern id="tp11" patternUnits="userSpaceOnUse" x="17" y="1" width="63" height="4"><g fill="#333333"><path fill-opacity="0.1" d="M0 0h1v1h-1zM0 1h1v1h-1zM1 0h1v1h-1zM1 3h1v1h-1zM2 0h1v1h-1zM3 0h1v1h-1zM6 0h1v1h-1zM6 2h1v1h-1zM7 0h1v1h-1zM7 3h1v1h-1zM12 0h1v1h-1zM13 1h1v1h-1zM14 0h1v1h-1zM15 1h1v1h-1zM15 2h1v1h-1zM15 3h1v1h-1zM16 0h1v1h-1zM18 0h1v1h-1zM18 1h1v1h-1zM22 0h1v1h-1zM22 2h1v1h-1zM22 3h1v1h-1zM26 0h1v1h-1zM28 0h1v1h-1zM28 1h1v1h-1zM28 3h1v1h-1zM30 1h1v1h-1zM33 2h1v1h-1zM34 0h1v1h-1zM36 3h1v1h-1zM37 0h1v1h-1zM38 0h1v1h-1zM39 0h1v1h-1zM40 0h1v1h-1zM43 3h1v1h-1zM44 0h1v1h-1zM47 0h1v1h-1zM48 0h1v1h-1zM48 3h1v1h-1zM54 1h1v1h-1zM58 0h1v1h-1zM59 0h1v1h-1zM61 0h1v1h-1zM61 1h1v1h-1zM61 3h1v1h-1zM62 0h1v1h-1z"/><path fill-opacity="0.52" d="M0 2h1v1h-1zM1 1h1v1h-1zM3 3h1v1h-1zM4 1h1v1h-1zM4 3h1v1h-1zM7 1h1v1h-1zM12 3h1v1h-1zM18 3h1v1h-1zM19 1h1v1h-1zM24 2h1v1h-1zM24 3h1v1h-1zM25 1h1v1h-1zM27 2h1v1h-1zM27 3h1v1h-1zM30 2h1v1h-1zM36 1h1v1h-1zM36 2h1v1h-1zM40 1h1v1h-1zM40 2h1v1h-1zM42 1h1v1h-1zM42 3h1v1h-1zM43 2h1v1h-1zM45 1h1v1h-1zM45 2h1v1h-1zM45 3h1v1h-1zM49 1h1v1h-1zM49 2h1v1h-1zM55 2h1v1h-1zM57 2h1v1h-1zM58 1h1v1h-1zM58 2h1v1h-1zM60 1h1v1h-1zM61 2h1v1h-1z"/><path fill-opacity="0.3" d="M0 3h1v1h-1zM3 1h1v1h-1zM3 2h1v1h-1zM7 2h1v1h-1zM12 1h1v1h-1zM12 2h1v1h-1zM13 3h1v1h-1zM16 1h1v1h-1zM16 2h1v1h-1zM16 3h1v1h-1zM19 2h1v1h-1zM21 1h1v1h-1zM21 2h1v1h-1zM24 1h1v1h-1zM31 1h1v1h-1zM31 2h1v1h-1zM31 3h1v1h-1zM33 1h1v1h-1zM37 2h1v1h-1zM39 2h1v1h-1zM48 1h1v1h-1zM49 3h1v1h-1zM54 2h1v1h-1zM55 1h1v1h-1zM57 1h1v1h-1zM57 3h1v1h-1z"/><path fill-opacity="0.78" d="M1 2h1v1h-1zM4 2h1v1h-1zM6 1h1v1h-1zM6 3h1v1h-1zM13 2h1v1h-1zM18 2h1v1h-1zM19 3h1v1h-1zM21 3h1v1h-1zM22 1h1v1h-1zM25 2h1v1h-1zM25 3h1v1h-1zM27 1h1v1h-1zM28 2h1v1h-1zM30 3h1v1h-1zM33 3h1v1h-1zM34 1h1v1h-1zM34 2h1v1h-1zM34 3h1v1h-1zM37 1h1v1h-1zM37 3h1v1h-1zM39 1h1v1h-1zM39 3h1v1h-1zM40 3h1v1h-1zM42 2h1v1h-1zM43 1h1v1h-1zM46 1h1v1h-1zM46 2h1v1h-1zM46 3h1v1h-1zM48 2h1v1h-1zM54 3h1v1h-1zM55 3h1v1h-1zM58 3h1v1h-1zM60 2h1v1h-1zM60 3h1v1h-1z"/><path fill-opacity="0.06" d="M2 1h1v1h-1zM8 3h1v1h-1zM20 3h1v1h-1zM26 2h1v1h-1zM29 1h1v1h-1zM47 1h1v1h-1zM47 3h1v1h-1zM50 3h1v1h-1zM56 3h1v1h-1zM59 1h1v1h-1zM62 3h1v1h-1z"/><path fill-opacity="0.25" d="M2 2h1v1h-1zM2 3h1v1h-1zM4 0h1v1h-1zM5 2h1v1h-1zM5 3h1v1h-1zM8 1h1v1h-1zM14 2h1v1h-1zM17 2h1v1h-1zM19 0h1v1h-1zM20 0h1v1h-1zM20 1h1v1h-1zM20 2h1v1h-1zM23 3h1v1h-1zM24 0h1v1h-1zM25 0h1v1h-1zM27 0h1v1h-1zM29 0h1v1h-1zM29 2h1v1h-1zM31 0h1v1h-1zM32 0h1v1h-1zM32 1h1v1h-1zM35 2h1v1h-1zM35 3h1v1h-1zM38 1h1v1h-1zM38 2h1v1h-1zM41 0h1v1h-1zM41 3h1v1h-1zM44 1h1v1h-1zM47 2h1v1h-1zM50 1h1v1h-1zM56 2h1v1h-1zM57 0h1v1h-1zM62 2h1v1h-1z"/><path fill-opacity="0.45" d="M5 1h1v1h-1zM14 1h1v1h-1zM14 3h1v1h-1zM17 3h1v1h-1zM23 2h1v1h-1zM26 1h1v1h-1zM26 3h1v1h-1zM29 3h1v1h-1zM35 1h1v1h-1zM38 3h1v1h-1zM41 1h1v1h-1zM41 2h1v1h-1zM44 2h1v1h-1zM44 3h1v1h-1zM56 1h1v1h-1zM62 1h1v1h-1z"/><path fill-opacity="0.7" d="M8 2h1v1h-1zM17 1h1v1h-1zM23 1h1v1h-1zM32 2h1v1h-1zM32 3h1v1h-1zM50 2h1v1h-1zM59 2h1v1h-1zM59 3h1v1h-1z"/><path fill-opacity="0.6" d="M9 3h1v1h-1zM51 3h1v1h-1z"/></g></pattern><pattern id="tp12" patternUnits="userSpaceOnUse" x="34" y="1" width="63" height="4"><g fill="#333333"><path fill-opacity="0.52" d="M0 1h1v1h-1zM0 3h1v1h-1zM1 3h1v1h-1zM3 1h1v1h-1zM3 3h1v1h-1zM4 1h1v1h-1zM4 2h1v1h-1zM4 3h1v1h-1zM6 2h1v1h-1zM7 3h1v1h-1zM9 2h1v1h-1zM10 1h1v1h-1zM10 2h1v1h-1zM15 1h1v1h-1zM15 2h1v1h-1zM18 2h1v1h-1zM19 2h1v1h-1zM21 2h1v1h-1zM22 3h1v1h-1zM25 2h1v1h-1zM27 3h1v1h-1zM28 3h1v1h-1zM31 1h1v1h-1zM40 2h1v1h-1zM42 1h1v1h-1zM42 3h1v1h-1zM43 2h1v1h-1zM46 1h1v1h-1zM46 2h1v1h-1zM52 1h1v1h-1zM52 2h1v1h-1zM52 3h1v1h-1zM54 2h1v1h-1zM57 1h1v1h-1zM58 2h1v1h-1zM58 3h1v1h-1z"/><path fill-opacity="0.78" d="M0 2h1v1h-1zM3 2h1v1h-1zM7 1h1v1h-1zM10 3h1v1h-1zM15 3h1v1h-1zM16 3h1v1h-1zM21 1h1v1h-1zM21 3h1v1h-1zM22 1h1v1h-1zM22 2h1v1h-1zM27 2h1v1h-1zM30 2h1v1h-1zM31 2h1v1h-1zM40 1h1v1h-1zM40 3h1v1h-1zM42 2h1v1h-1zM43 3h1v1h-1zM48 1h1v1h-1zM48 2h1v1h-1zM49 1h1v1h-1zM49 2h1v1h-1zM51 1h1v1h-1zM54 3h1v1h-1zM55 1h1v1h-1zM55 2h1v1h-1zM55 3h1v1h-1zM57 2h1v1h-1zM58 1h1v1h-1z"/><path fill-opacity="0.1" d="M1 0h1v1h-1zM1 2h1v1h-1zM5 0h1v1h-1zM6 0h1v1h-1zM6 1h1v1h-1zM7 0h1v1h-1zM8 0h1v1h-1zM9 0h1v1h-1zM9 3h1v1h-1zM18 3h1v1h-1zM19 3h1v1h-1zM21 0h1v1h-1zM22 0h1v1h-1zM23 0h1v1h-1zM24 1h1v1h-1zM24 2h1v1h-1zM25 0h1v1h-1zM27 0h1v1h-1zM28 0h1v1h-1zM28 2h1v1h-1zM30 3h1v1h-1zM31 3h1v1h-1zM32 0h1v1h-1zM39 2h1v1h-1zM40 0h1v1h-1zM41 0h1v1h-1zM42 0h1v1h-1zM43 1h1v1h-1zM44 0h1v1h-1zM45 1h1v1h-1zM45 2h1v1h-1zM45 3h1v1h-1zM48 3h1v1h-1zM51 3h1v1h-1zM54 0h1v1h-1zM56 0h1v1h-1zM57 0h1v1h-1zM57 3h1v1h-1z"/><path fill-opacity="0.3" d="M1 1h1v1h-1zM6 3h1v1h-1zM7 2h1v1h-1zM9 1h1v1h-1zM16 1h1v1h-1zM16 2h1v1h-1zM18 1h1v1h-1zM19 1h1v1h-1zM24 3h1v1h-1zM25 1h1v1h-1zM25 3h1v1h-1zM27 1h1v1h-1zM28 1h1v1h-1zM30 1h1v1h-1zM39 1h1v1h-1zM39 3h1v1h-1zM46 3h1v1h-1zM49 3h1v1h-1zM51 2h1v1h-1zM54 1h1v1h-1z"/><path fill-opacity="0.45" d="M2 1h1v1h-1zM5 3h1v1h-1zM8 3h1v1h-1zM11 2h1v1h-1zM17 1h1v1h-1zM17 2h1v1h-1zM20 1h1v1h-1zM23 1h1v1h-1zM23 2h1v1h-1zM26 2h1v1h-1zM29 1h1v1h-1zM29 2h1v1h-1zM41 1h1v1h-1zM41 3h1v1h-1zM44 1h1v1h-1zM53 2h1v1h-1zM56 2h1v1h-1zM56 3h1v1h-1z"/><path fill-opacity="0.06" d="M2 2h1v1h-1zM5 2h1v1h-1zM8 2h1v1h-1zM11 3h1v1h-1zM20 2h1v1h-1zM20 3h1v1h-1zM26 1h1v1h-1zM29 3h1v1h-1zM32 1h1v1h-1zM44 2h1v1h-1zM44 3h1v1h-1zM47 2h1v1h-1zM50 3h1v1h-1zM53 1h1v1h-1zM56 1h1v1h-1zM59 2h1v1h-1z"/><path fill-opacity="0.7" d="M2 3h1v1h-1zM8 1h1v1h-1zM11 1h1v1h-1zM26 3h1v1h-1zM32 2h1v1h-1zM47 3h1v1h-1z"/><path fill-opacity="0.25" d="M3 0h1v1h-1zM4 0h1v1h-1zM5 1h1v1h-1zM17 3h1v1h-1zM18 0h1v1h-1zM23 3h1v1h-1zM24 0h1v1h-1zM31 0h1v1h-1zM32 3h1v1h-1zM41 2h1v1h-1zM46 0h1v1h-1zM47 1h1v1h-1zM50 1h1v1h-1zM50 2h1v1h-1zM51 0h1v1h-1zM53 0h1v1h-1zM53 3h1v1h-1zM58 0h1v1h-1zM59 1h1v1h-1zM59 3h1v1h-1z"/><path fill-opacity="0.6" d="M12 3h1v1h-1zM33 3h1v1h-1zM36 3h1v1h-1zM60 3h1v1h-1z"/></g></pattern><pattern id="tp13" patternUnits="userSpaceOnUse" x="51" y="1" width="63" height="4"><g fill="#333333"><path fill-opacity="0.1" d="M0 0h1v1h-1zM0 3h1v1h-1zM1 0h1v1h-1zM1 2h1v1h-1zM1 3h1v1h-1zM2 0h1v1h-1zM5 0h1v1h-1zM6 0h1v1h-1zM6 1h1v1h-1zM6 2h1v1h-1zM6 3h1v1h-1zM7 0h1v1h-1zM7 1h1v1h-1zM9 1h1v1h-1zM10 2h1v1h-1zM13 2h1v1h-1zM14 0h1v1h-1zM15 0h1v1h-1zM16 0h1v1h-1zM16 2h1v1h-1zM20 0h1v1h-1zM22 0h1v1h-1zM23 0h1v1h-1zM25 0h1v1h-1zM25 2h1v1h-1zM28 0h1v1h-1zM28 3h1v1h-1zM29 0h1v1h-1zM30 0h1v1h-1zM30 1h1v1h-1zM33 1h1v1h-1zM36 1h1v1h-1zM37 0h1v1h-1zM37 1h1v1h-1zM41 0h1v1h-1zM42 0h1v1h-1zM42 3h1v1h-1zM45 2h1v1h-1zM46 3h1v1h-1zM51 0h1v1h-1zM52 2h1v1h-1zM52 3h1v1h-1zM53 0h1v1h-1zM54 0h1v1h-1zM55 1h1v1h-1zM57 0h1v1h-1zM58 0h1v1h-1zM58 1h1v1h-1zM59 0h1v1h-1zM60 0h1v1h-1zM61 1h1v1h-1zM61 2h1v1h-1zM62 0h1v1h-1z"/><path fill-opacity="0.78" d="M0 1h1v1h-1zM3 2h1v1h-1zM4 3h1v1h-1zM7 2h1v1h-1zM10 1h1v1h-1zM10 3h1v1h-1zM13 3h1v1h-1zM15 1h1v1h-1zM18 1h1v1h-1zM19 1h1v1h-1zM19 2h1v1h-1zM21 2h1v1h-1zM21 3h1v1h-1zM22 1h1v1h-1zM22 2h1v1h-1zM25 3h1v1h-1zM27 1h1v1h-1zM27 2h1v1h-1zM28 2h1v1h-1zM31 2h1v1h-1zM33 2h1v1h-1zM34 2h1v1h-1zM40 2h1v1h-1zM43 2h1v1h-1zM46 2h1v1h-1zM49 1h1v1h-1zM49 3h1v1h-1zM51 1h1v1h-1zM54 1h1v1h-1zM57 1h1v1h-1zM57 2h1v1h-1zM61 3h1v1h-1z"/><path fill-opacity="0.52" d="M0 2h1v1h-1zM1 1h1v1h-1zM3 1h1v1h-1zM3 3h1v1h-1zM4 1h1v1h-1zM9 2h1v1h-1zM9 3h1v1h-1zM12 1h1v1h-1zM12 2h1v1h-1zM12 3h1v1h-1zM13 1h1v1h-1zM15 2h1v1h-1zM15 3h1v1h-1zM16 3h1v1h-1zM18 3h1v1h-1zM21 1h1v1h-1zM24 1h1v1h-1zM24 2h1v1h-1zM24 3h1v1h-1zM25 1h1v1h-1zM28 1h1v1h-1zM30 2h1v1h-1zM30 3h1v1h-1zM31 1h1v1h-1zM31 3h1v1h-1zM33 3h1v1h-1zM36 2h1v1h-1zM36 3h1v1h-1zM37 2h1v1h-1zM37 3h1v1h-1zM48 1h1v1h-1zM48 2h1v1h-1zM48 3h1v1h-1zM52 1h1v1h-1zM54 2h1v1h-1zM54 3h1v1h-1zM55 2h1v1h-1zM55 3h1v1h-1zM57 3h1v1h-1zM58 3h1v1h-1zM60 3h1v1h-1z"/><path fill-opacity="0.7" d="M2 1h1v1h-1zM5 2h1v1h-1zM8 2h1v1h-1zM11 2h1v1h-1zM14 1h1v1h-1zM20 1h1v1h-1zM29 1h1v1h-1zM32 2h1v1h-1zM41 3h1v1h-1z"/><path fill-opacity="0.06" d="M2 2h1v1h-1zM2 3h1v1h-1zM5 3h1v1h-1zM14 3h1v1h-1zM17 1h1v1h-1zM20 3h1v1h-1zM26 1h1v1h-1zM26 2h1v1h-1zM35 2h1v1h-1zM38 2h1v1h-1zM38 3h1v1h-1zM41 2h1v1h-1zM44 1h1v1h-1zM44 2h1v1h-1zM47 1h1v1h-1zM47 2h1v1h-1zM50 1h1v1h-1zM53 1h1v1h-1zM53 3h1v1h-1zM59 3h1v1h-1zM62 1h1v1h-1z"/><path fill-opacity="0.3" d="M4 2h1v1h-1zM7 3h1v1h-1zM16 1h1v1h-1zM18 2h1v1h-1zM19 3h1v1h-1zM22 3h1v1h-1zM27 3h1v1h-1zM34 1h1v1h-1zM34 3h1v1h-1zM39 1h1v1h-1zM39 2h1v1h-1zM39 3h1v1h-1zM40 1h1v1h-1zM40 3h1v1h-1zM42 1h1v1h-1zM42 2h1v1h-1zM43 1h1v1h-1zM43 3h1v1h-1zM45 1h1v1h-1zM45 3h1v1h-1zM46 1h1v1h-1zM49 2h1v1h-1zM51 2h1v1h-1zM51 3h1v1h-1zM58 2h1v1h-1zM60 1h1v1h-1zM60 2h1v1h-1z"/><path fill-opacity="0.45" d="M5 1h1v1h-1zM8 1h1v1h-1zM11 1h1v1h-1zM11 3h1v1h-1zM14 2h1v1h-1zM17 3h1v1h-1zM20 2h1v1h-1zM23 3h1v1h-1zM26 3h1v1h-1zM29 3h1v1h-1zM35 1h1v1h-1zM38 1h1v1h-1zM41 1h1v1h-1zM44 3h1v1h-1zM56 1h1v1h-1zM56 2h1v1h-1zM59 1h1v1h-1zM62 3h1v1h-1z"/><path fill-opacity="0.25" d="M8 3h1v1h-1zM10 0h1v1h-1zM11 0h1v1h-1zM12 0h1v1h-1zM17 2h1v1h-1zM19 0h1v1h-1zM23 1h1v1h-1zM23 2h1v1h-1zM29 2h1v1h-1zM31 0h1v1h-1zM32 1h1v1h-1zM32 3h1v1h-1zM34 0h1v1h-1zM35 3h1v1h-1zM38 0h1v1h-1zM44 0h1v1h-1zM46 0h1v1h-1zM47 3h1v1h-1zM49 0h1v1h-1zM50 2h1v1h-1zM50 3h1v1h-1zM53 2h1v1h-1zM55 0h1v1h-1zM56 3h1v1h-1zM59 2h1v1h-1zM62 2h1v1h-1z"/></g></pattern><pattern id="tp14" patternUnits="userSpaceOnUse" x="5" y="1" width="63" height="4"><g fill="#333333"><path fill-opacity="0.25" d="M0 0h1v1h-1zM2 2h1v1h-1zM2 3h1v1h-1zM4 0h1v1h-1zM5 0h1v1h-1zM5 1h1v1h-1zM5 2h1v1h-1zM8 0h1v1h-1zM8 3h1v1h-1zM11 2h1v1h-1zM14 1h1v1h-1zM17 1h1v1h-1zM23 0h1v1h-1zM23 1h1v1h-1zM29 1h1v1h-1zM30 0h1v1h-1zM32 3h1v1h-1zM35 0h1v1h-1zM36 0h1v1h-1zM38 0h1v1h-1zM41 1h1v1h-1zM47 0h1v1h-1zM47 2h1v1h-1zM47 3h1v1h-1zM55 0h1v1h-1zM56 1h1v1h-1zM56 2h1v1h-1zM59 1h1v1h-1zM62 3h1v1h-1z"/><path fill-opacity="0.78" d="M0 1h1v1h-1zM0 3h1v1h-1zM3 3h1v1h-1zM4 1h1v1h-1zM6 3h1v1h-1zM7 1h1v1h-1zM7 2h1v1h-1zM10 2h1v1h-1zM12 1h1v1h-1zM19 1h1v1h-1zM21 1h1v1h-1zM21 3h1v1h-1zM22 2h1v1h-1zM25 1h1v1h-1zM27 2h1v1h-1zM28 2h1v1h-1zM33 2h1v1h-1zM34 1h1v1h-1zM36 1h1v1h-1zM36 2h1v1h-1zM37 1h1v1h-1zM39 3h1v1h-1zM42 1h1v1h-1zM45 2h1v1h-1zM46 2h1v1h-1zM54 3h1v1h-1zM55 1h1v1h-1zM55 3h1v1h-1zM58 1h1v1h-1zM58 2h1v1h-1zM58 3h1v1h-1z"/><path fill-opacity="0.52" d="M0 2h1v1h-1zM1 2h1v1h-1zM4 3h1v1h-1zM7 3h1v1h-1zM9 2h1v1h-1zM9 3h1v1h-1zM10 3h1v1h-1zM13 1h1v1h-1zM13 2h1v1h-1zM13 3h1v1h-1zM15 1h1v1h-1zM15 3h1v1h-1zM18 3h1v1h-1zM19 3h1v1h-1zM25 3h1v1h-1zM27 3h1v1h-1zM28 1h1v1h-1zM30 2h1v1h-1zM30 3h1v1h-1zM31 1h1v1h-1zM31 3h1v1h-1zM33 1h1v1h-1zM33 3h1v1h-1zM34 2h1v1h-1zM37 2h1v1h-1zM39 1h1v1h-1zM40 1h1v1h-1zM40 2h1v1h-1zM42 3h1v1h-1zM43 1h1v1h-1zM45 3h1v1h-1zM57 1h1v1h-1zM57 2h1v1h-1zM57 3h1v1h-1zM60 1h1v1h-1zM60 2h1v1h-1z"/><path fill-opacity="0.3" d="M1 1h1v1h-1zM1 3h1v1h-1zM4 2h1v1h-1zM6 1h1v1h-1zM6 2h1v1h-1zM12 2h1v1h-1zM12 3h1v1h-1zM16 3h1v1h-1zM18 1h1v1h-1zM18 2h1v1h-1zM19 2h1v1h-1zM21 2h1v1h-1zM24 1h1v1h-1zM24 2h1v1h-1zM24 3h1v1h-1zM25 2h1v1h-1zM28 3h1v1h-1zM30 1h1v1h-1zM34 3h1v1h-1zM36 3h1v1h-1zM37 3h1v1h-1zM40 3h1v1h-1zM43 2h1v1h-1zM46 1h1v1h-1zM46 3h1v1h-1zM54 1h1v1h-1zM55 2h1v1h-1zM61 1h1v1h-1zM61 2h1v1h-1zM61 3h1v1h-1z"/><path fill-opacity="0.06" d="M2 1h1v1h-1zM5 3h1v1h-1zM11 1h1v1h-1zM17 2h1v1h-1zM20 2h1v1h-1zM23 2h1v1h-1zM23 3h1v1h-1zM26 1h1v1h-1zM26 3h1v1h-1zM29 3h1v1h-1zM35 2h1v1h-1zM35 3h1v1h-1zM38 1h1v1h-1zM38 2h1v1h-1zM41 2h1v1h-1zM44 3h1v1h-1zM47 1h1v1h-1z"/><path fill-opacity="0.1" d="M3 0h1v1h-1zM3 1h1v1h-1zM3 2h1v1h-1zM9 1h1v1h-1zM10 0h1v1h-1zM10 1h1v1h-1zM11 0h1v1h-1zM13 0h1v1h-1zM14 0h1v1h-1zM15 0h1v1h-1zM15 2h1v1h-1zM16 0h1v1h-1zM16 1h1v1h-1zM16 2h1v1h-1zM17 0h1v1h-1zM22 0h1v1h-1zM22 1h1v1h-1zM22 3h1v1h-1zM26 0h1v1h-1zM27 1h1v1h-1zM28 0h1v1h-1zM31 2h1v1h-1zM34 0h1v1h-1zM39 2h1v1h-1zM40 0h1v1h-1zM42 2h1v1h-1zM43 0h1v1h-1zM43 3h1v1h-1zM45 1h1v1h-1zM46 0h1v1h-1zM54 2h1v1h-1zM56 0h1v1h-1zM57 0h1v1h-1zM58 0h1v1h-1zM59 0h1v1h-1zM60 0h1v1h-1zM60 3h1v1h-1zM62 0h1v1h-1z"/><path fill-opacity="0.7" d="M8 1h1v1h-1zM20 3h1v1h-1zM26 2h1v1h-1zM32 1h1v1h-1zM59 3h1v1h-1z"/><path fill-opacity="0.45" d="M8 2h1v1h-1zM11 3h1v1h-1zM14 2h1v1h-1zM14 3h1v1h-1zM17 3h1v1h-1zM20 1h1v1h-1zM29 2h1v1h-1zM32 2h1v1h-1zM35 1h1v1h-1zM38 3h1v1h-1zM41 3h1v1h-1zM44 1h1v1h-1zM44 2h1v1h-1zM56 3h1v1h-1zM59 2h1v1h-1zM62 1h1v1h-1zM62 2h1v1h-1z"/><path fill-opacity="0.6" d="M48 3h1v1h-1zM51 3h1v1h-1z"/></g></pattern><pattern id="tp15" patternUnits="userSpaceOnUse" x="22" y="1" width="63" height="4"><g fill="#333333"><path fill-opacity="0.1" d="M0 0h1v1h-1zM0 3h1v1h-1zM1 0h1v1h-1zM4 0h1v1h-1zM4 3h1v1h-1zM7 2h1v1h-1zM9 2h1v1h-1zM11 0h1v1h-1zM12 0h1v1h-1zM18 0h1v1h-1zM18 1h1v1h-1zM21 0h1v1h-1zM22 3h1v1h-1zM24 2h1v1h-1zM33 0h1v1h-1zM36 1h1v1h-1zM37 0h1v1h-1zM37 1h1v1h-1zM39 3h1v1h-1zM40 0h1v1h-1zM40 3h1v1h-1zM46 1h1v1h-1zM47 0h1v1h-1zM48 0h1v1h-1zM48 2h1v1h-1zM49 0h1v1h-1zM51 2h1v1h-1zM52 3h1v1h-1zM54 1h1v1h-1zM57 0h1v1h-1zM57 1h1v1h-1zM57 2h1v1h-1zM58 0h1v1h-1zM58 3h1v1h-1z"/><path fill-opacity="0.52" d="M0 1h1v1h-1zM1 2h1v1h-1zM4 1h1v1h-1zM4 2h1v1h-1zM6 1h1v1h-1zM6 2h1v1h-1zM6 3h1v1h-1zM7 1h1v1h-1zM9 1h1v1h-1zM9 3h1v1h-1zM10 1h1v1h-1zM10 2h1v1h-1zM12 1h1v1h-1zM12 2h1v1h-1zM18 2h1v1h-1zM21 3h1v1h-1zM25 1h1v1h-1zM25 3h1v1h-1zM33 1h1v1h-1zM33 3h1v1h-1zM34 2h1v1h-1zM34 3h1v1h-1zM43 2h1v1h-1zM43 3h1v1h-1zM45 3h1v1h-1zM46 2h1v1h-1zM46 3h1v1h-1zM52 1h1v1h-1zM54 3h1v1h-1z"/><path fill-opacity="0.3" d="M0 2h1v1h-1zM3 1h1v1h-1zM3 2h1v1h-1zM3 3h1v1h-1zM12 3h1v1h-1zM13 2h1v1h-1zM15 1h1v1h-1zM15 3h1v1h-1zM16 1h1v1h-1zM19 2h1v1h-1zM19 3h1v1h-1zM21 1h1v1h-1zM24 1h1v1h-1zM24 3h1v1h-1zM25 2h1v1h-1zM37 2h1v1h-1zM37 3h1v1h-1zM42 3h1v1h-1zM45 1h1v1h-1zM48 1h1v1h-1zM49 2h1v1h-1zM49 3h1v1h-1zM51 3h1v1h-1zM52 2h1v1h-1zM55 2h1v1h-1zM58 1h1v1h-1z"/><path fill-opacity="0.78" d="M1 1h1v1h-1zM1 3h1v1h-1zM7 3h1v1h-1zM10 3h1v1h-1zM13 1h1v1h-1zM13 3h1v1h-1zM15 2h1v1h-1zM16 2h1v1h-1zM16 3h1v1h-1zM18 3h1v1h-1zM19 1h1v1h-1zM21 2h1v1h-1zM22 1h1v1h-1zM22 2h1v1h-1zM33 2h1v1h-1zM34 1h1v1h-1zM36 2h1v1h-1zM36 3h1v1h-1zM39 1h1v1h-1zM39 2h1v1h-1zM40 1h1v1h-1zM40 2h1v1h-1zM42 1h1v1h-1zM42 2h1v1h-1zM43 1h1v1h-1zM45 2h1v1h-1zM48 3h1v1h-1zM49 1h1v1h-1zM51 1h1v1h-1zM54 2h1v1h-1zM55 1h1v1h-1zM55 3h1v1h-1zM57 3h1v1h-1zM58 2h1v1h-1z"/><path fill-opacity="0.25" d="M2 1h1v1h-1zM9 0h1v1h-1zM11 2h1v1h-1zM13 0h1v1h-1zM14 0h1v1h-1zM15 0h1v1h-1zM20 2h1v1h-1zM26 0h1v1h-1zM26 1h1v1h-1zM26 3h1v1h-1zM35 1h1v1h-1zM36 0h1v1h-1zM39 0h1v1h-1zM42 0h1v1h-1zM43 0h1v1h-1zM44 0h1v1h-1zM44 1h1v1h-1zM44 2h1v1h-1zM45 0h1v1h-1zM46 0h1v1h-1zM53 1h1v1h-1zM56 3h1v1h-1zM59 0h1v1h-1zM59 1h1v1h-1z"/><path fill-opacity="0.45" d="M2 2h1v1h-1zM2 3h1v1h-1zM8 3h1v1h-1zM11 3h1v1h-1zM14 2h1v1h-1zM17 2h1v1h-1zM20 3h1v1h-1zM23 2h1v1h-1zM23 3h1v1h-1zM26 2h1v1h-1zM35 2h1v1h-1zM35 3h1v1h-1zM44 3h1v1h-1zM47 3h1v1h-1zM50 2h1v1h-1zM50 3h1v1h-1zM56 1h1v1h-1zM56 2h1v1h-1zM59 2h1v1h-1z"/><path fill-opacity="0.06" d="M5 1h1v1h-1zM5 2h1v1h-1zM11 1h1v1h-1zM14 1h1v1h-1zM14 3h1v1h-1zM38 1h1v1h-1zM38 3h1v1h-1zM41 1h1v1h-1zM47 1h1v1h-1zM50 1h1v1h-1zM53 2h1v1h-1zM53 3h1v1h-1z"/><path fill-opacity="0.7" d="M5 3h1v1h-1zM8 1h1v1h-1zM8 2h1v1h-1zM17 1h1v1h-1zM17 3h1v1h-1zM20 1h1v1h-1zM23 1h1v1h-1zM38 2h1v1h-1zM41 2h1v1h-1zM41 3h1v1h-1zM47 2h1v1h-1zM59 3h1v1h-1z"/><path fill-opacity="0.6" d="M27 3h1v1h-1zM30 3h1v1h-1zM60 3h1v1h-1z"/></g></pattern><pattern id="tp20" patternUnits="userSpaceOnUse" x="0" y="2" width="63" height="4"><g fill="#333333"><path fill-opacity="0.6" d="M0 3h1v1h-1zM18 3h1v1h-1z"/><path fill-opacity="0.1" d="M3 0h1v1h-1zM3 1h1v1h-1zM6 0h1v1h-1zM7 2h1v1h-1zM9 3h1v1h-1zM15 2h1v1h-1zM16 1h1v1h-1zM16 3h1v1h-1zM17 0h1v1h-1zM21 0h1v1h-1zM24 2h1v1h-1zM25 0h1v1h-1zM25 3h1v1h-1zM28 0h1v1h-1zM28 3h1v1h-1zM29 0h1v1h-1zM30 1h1v1h-1zM36 2h1v1h-1zM36 3h1v1h-1zM37 3h1v1h-1zM39 1h1v1h-1zM40 0h1v1h-1zM41 0h1v1h-1zM43 0h1v1h-1zM46 1h1v1h-1zM47 0h1v1h-1zM48 0h1v1h-1zM48 1h1v1h-1zM50 0h1v1h-1zM51 0h1v1h-1zM53 0h1v1h-1zM54 0h1v1h-1zM58 3h1v1h-1zM59 0h1v1h-1zM61 3h1v1h-1z"/><path fill-opacity="0.3" d="M3 2h1v1h-1zM4 3h1v1h-1zM6 1h1v1h-1zM6 3h1v1h-1zM7 1h1v1h-1zM9 2h1v1h-1zM12 1h1v1h-1zM15 1h1v1h-1zM16 2h1v1h-1zM21 1h1v1h-1zM22 2h1v1h-1zM22 3h1v1h-1zM27 2h1v1h-1zM27 3h1v1h-1zM30 2h1v1h-1zM31 3h1v1h-1zM33 2h1v1h-1zM34 1h1v1h-1zM37 2h1v1h-1zM40 2h1v1h-1zM40 3h1v1h-1zM42 3h1v1h-1zM43 1h1v1h-1zM45 1h1v1h-1zM45 2h1v1h-1zM45 3h1v1h-1zM46 3h1v1h-1zM48 2h1v1h-1zM48 3h1v1h-1zM49 2h1v1h-1zM51 3h1v1h-1zM52 3h1v1h-1zM54 3h1v1h-1zM55 1h1v1h-1zM55 2h1v1h-1z"/><path fill-opacity="0.78" d="M3 3h1v1h-1zM4 1h1v1h-1zM7 3h1v1h-1zM10 1h1v1h-1zM10 2h1v1h-1zM12 2h1v1h-1zM12 3h1v1h-1zM13 1h1v1h-1zM13 2h1v1h-1zM22 1h1v1h-1zM28 1h1v1h-1zM30 3h1v1h-1zM31 1h1v1h-1zM33 1h1v1h-1zM34 2h1v1h-1zM34 3h1v1h-1zM36 1h1v1h-1zM39 2h1v1h-1zM40 1h1v1h-1zM42 1h1v1h-1zM42 2h1v1h-1zM49 3h1v1h-1zM51 1h1v1h-1zM51 2h1v1h-1zM52 1h1v1h-1zM52 2h1v1h-1zM54 2h1v1h-1zM60 1h1v1h-1zM60 3h1v1h-1zM61 2h1v1h-1z"/><path fill-opacity="0.52" d="M4 2h1v1h-1zM6 2h1v1h-1zM9 1h1v1h-1zM10 3h1v1h-1zM13 3h1v1h-1zM15 3h1v1h-1zM21 2h1v1h-1zM21 3h1v1h-1zM24 1h1v1h-1zM24 3h1v1h-1zM25 1h1v1h-1zM25 2h1v1h-1zM27 1h1v1h-1zM28 2h1v1h-1zM31 2h1v1h-1zM33 3h1v1h-1zM37 1h1v1h-1zM39 3h1v1h-1zM43 2h1v1h-1zM43 3h1v1h-1zM46 2h1v1h-1zM49 1h1v1h-1zM54 1h1v1h-1zM55 3h1v1h-1zM57 1h1v1h-1zM57 2h1v1h-1zM57 3h1v1h-1zM58 1h1v1h-1zM58 2h1v1h-1zM60 2h1v1h-1zM61 1h1v1h-1z"/><path fill-opacity="0.06" d="M5 1h1v1h-1zM11 3h1v1h-1zM14 2h1v1h-1zM17 1h1v1h-1zM23 1h1v1h-1zM29 2h1v1h-1zM32 1h1v1h-1zM35 3h1v1h-1zM41 3h1v1h-1zM44 1h1v1h-1zM50 2h1v1h-1zM50 3h1v1h-1zM53 1h1v1h-1zM56 3h1v1h-1zM59 1h1v1h-1zM59 2h1v1h-1zM62 1h1v1h-1zM62 2h1v1h-1zM62 3h1v1h-1z"/><path fill-opacity="0.25" d="M5 2h1v1h-1zM7 0h1v1h-1zM10 0h1v1h-1zM11 1h1v1h-1zM11 2h1v1h-1zM12 0h1v1h-1zM13 0h1v1h-1zM14 0h1v1h-1zM14 1h1v1h-1zM17 2h1v1h-1zM17 3h1v1h-1zM22 0h1v1h-1zM23 3h1v1h-1zM26 0h1v1h-1zM26 3h1v1h-1zM27 0h1v1h-1zM29 3h1v1h-1zM30 0h1v1h-1zM32 0h1v1h-1zM33 0h1v1h-1zM35 1h1v1h-1zM38 2h1v1h-1zM41 1h1v1h-1zM41 2h1v1h-1zM42 0h1v1h-1zM44 0h1v1h-1zM44 2h1v1h-1zM47 3h1v1h-1zM53 3h1v1h-1zM55 0h1v1h-1zM56 0h1v1h-1zM57 0h1v1h-1zM58 0h1v1h-1zM59 3h1v1h-1zM61 0h1v1h-1z"/><path fill-opacity="0.45" d="M5 3h1v1h-1zM8 1h1v1h-1zM8 3h1v1h-1zM14 3h1v1h-1zM23 2h1v1h-1zM26 1h1v1h-1zM32 2h1v1h-1zM35 2h1v1h-1zM47 1h1v1h-1zM47 2h1v1h-1zM53 2h1v1h-1z"/><path fill-opacity="0.7" d="M8 2h1v1h-1zM26 2h1v1h-1zM29 1h1v1h-1zM32 3h1v1h-1zM38 1h1v1h-1zM38 3h1v1h-1zM44 3h1v1h-1zM50 1h1v1h-1zM56 1h1v1h-1zM56 2h1v1h-1z"/></g></pattern><pattern id="tp21" patternUnits="userSpaceOnUse" x="17" y="2" width="63" height="4"><g fill="#333333"><path fill-opacity="0.1" d="M0 0h1v1h-1zM1 0h1v1h-1zM6 2h1v1h-1zM7 0h1v1h-1zM12 1h1v1h-1zM14 0h1v1h-1zM16 2h1v1h-1zM17 0h1v1h-1zM18 2h1v1h-1zM19 3h1v1h-1zM22 0h1v1h-1zM25 2h1v1h-1zM31 0h1v1h-1zM33 1h1v1h-1zM38 0h1v1h-1zM45 0h1v1h-1zM47 0h1v1h-1zM51 0h1v1h-1zM52 1h1v1h-1zM53 0h1v1h-1zM55 1h1v1h-1zM56 0h1v1h-1zM60 2h1v1h-1z"/><path fill-opacity="0.3" d="M0 1h1v1h-1zM0 2h1v1h-1zM1 3h1v1h-1zM13 2h1v1h-1zM16 3h1v1h-1zM18 1h1v1h-1zM21 1h1v1h-1zM21 2h1v1h-1zM25 3h1v1h-1zM27 1h1v1h-1zM28 2h1v1h-1zM30 1h1v1h-1zM31 2h1v1h-1zM33 3h1v1h-1zM34 3h1v1h-1zM37 2h1v1h-1zM46 1h1v1h-1zM51 1h1v1h-1zM51 3h1v1h-1zM52 2h1v1h-1zM52 3h1v1h-1zM54 2h1v1h-1zM54 3h1v1h-1zM57 2h1v1h-1zM58 3h1v1h-1z"/><path fill-opacity="0.78" d="M0 3h1v1h-1zM6 1h1v1h-1zM7 3h1v1h-1zM12 2h1v1h-1zM12 3h1v1h-1zM15 1h1v1h-1zM15 2h1v1h-1zM16 1h1v1h-1zM18 3h1v1h-1zM19 1h1v1h-1zM19 2h1v1h-1zM24 3h1v1h-1zM27 3h1v1h-1zM28 1h1v1h-1zM28 3h1v1h-1zM31 3h1v1h-1zM33 2h1v1h-1zM36 1h1v1h-1zM36 2h1v1h-1zM37 3h1v1h-1zM45 3h1v1h-1zM48 1h1v1h-1zM48 3h1v1h-1zM54 1h1v1h-1zM55 2h1v1h-1zM58 1h1v1h-1zM58 2h1v1h-1zM60 1h1v1h-1zM61 3h1v1h-1z"/><path fill-opacity="0.52" d="M1 1h1v1h-1zM1 2h1v1h-1zM6 3h1v1h-1zM7 1h1v1h-1zM7 2h1v1h-1zM13 1h1v1h-1zM13 3h1v1h-1zM15 3h1v1h-1zM21 3h1v1h-1zM22 1h1v1h-1zM22 2h1v1h-1zM22 3h1v1h-1zM24 1h1v1h-1zM24 2h1v1h-1zM25 1h1v1h-1zM27 2h1v1h-1zM30 2h1v1h-1zM30 3h1v1h-1zM31 1h1v1h-1zM34 1h1v1h-1zM34 2h1v1h-1zM36 3h1v1h-1zM37 1h1v1h-1zM45 1h1v1h-1zM45 2h1v1h-1zM46 2h1v1h-1zM46 3h1v1h-1zM48 2h1v1h-1zM49 1h1v1h-1zM49 2h1v1h-1zM49 3h1v1h-1zM51 2h1v1h-1zM55 3h1v1h-1zM57 1h1v1h-1zM57 3h1v1h-1zM60 3h1v1h-1zM61 1h1v1h-1zM61 2h1v1h-1z"/><path fill-opacity="0.25" d="M2 1h1v1h-1zM6 0h1v1h-1zM12 0h1v1h-1zM14 2h1v1h-1zM15 0h1v1h-1zM19 0h1v1h-1zM20 1h1v1h-1zM23 3h1v1h-1zM24 0h1v1h-1zM25 0h1v1h-1zM26 0h1v1h-1zM28 0h1v1h-1zM32 2h1v1h-1zM33 0h1v1h-1zM34 0h1v1h-1zM36 0h1v1h-1zM46 0h1v1h-1zM48 0h1v1h-1zM50 0h1v1h-1zM50 3h1v1h-1zM53 1h1v1h-1zM53 2h1v1h-1zM53 3h1v1h-1zM56 3h1v1h-1zM61 0h1v1h-1zM62 3h1v1h-1z"/><path fill-opacity="0.06" d="M2 2h1v1h-1zM2 3h1v1h-1zM8 2h1v1h-1zM8 3h1v1h-1zM17 2h1v1h-1zM17 3h1v1h-1zM23 1h1v1h-1zM29 1h1v1h-1zM32 1h1v1h-1zM32 3h1v1h-1zM35 2h1v1h-1zM35 3h1v1h-1zM38 1h1v1h-1zM50 2h1v1h-1zM56 1h1v1h-1zM59 1h1v1h-1zM62 1h1v1h-1z"/><path fill-opacity="0.6" d="M3 3h1v1h-1zM9 3h1v1h-1zM39 3h1v1h-1zM42 3h1v1h-1z"/><path fill-opacity="0.45" d="M8 1h1v1h-1zM14 1h1v1h-1zM14 3h1v1h-1zM20 3h1v1h-1zM23 2h1v1h-1zM26 1h1v1h-1zM26 2h1v1h-1zM26 3h1v1h-1zM29 3h1v1h-1zM35 1h1v1h-1zM38 2h1v1h-1zM38 3h1v1h-1zM47 1h1v1h-1zM47 3h1v1h-1zM56 2h1v1h-1zM59 2h1v1h-1z"/><path fill-opacity="0.7" d="M17 1h1v1h-1zM20 2h1v1h-1zM29 2h1v1h-1zM47 2h1v1h-1zM50 1h1v1h-1zM59 3h1v1h-1zM62 2h1v1h-1z"/></g></pattern><pattern id="tp22" patternUnits="userSpaceOnUse" x="34" y="2" width="63" height="4"><g fill="#333333"><path fill-opacity="0.78" d="M0 1h1v1h-1zM4 2h1v1h-1zM4 3h1v1h-1zM6 3h1v1h-1zM10 2h1v1h-1zM10 3h1v1h-1zM12 2h1v1h-1zM13 2h1v1h-1zM13 3h1v1h-1zM16 1h1v1h-1zM18 1h1v1h-1zM18 2h1v1h-1zM19 1h1v1h-1zM19 2h1v1h-1zM22 1h1v1h-1zM22 3h1v1h-1zM30 2h1v1h-1zM31 1h1v1h-1zM33 1h1v1h-1zM34 3h1v1h-1zM37 1h1v1h-1zM37 2h1v1h-1zM39 2h1v1h-1zM40 1h1v1h-1zM43 3h1v1h-1zM48 3h1v1h-1zM49 1h1v1h-1zM54 2h1v1h-1zM57 3h1v1h-1zM60 2h1v1h-1zM60 3h1v1h-1zM61 1h1v1h-1zM61 2h1v1h-1z"/><path fill-opacity="0.52" d="M0 2h1v1h-1zM0 3h1v1h-1zM1 1h1v1h-1zM1 2h1v1h-1zM3 3h1v1h-1zM4 1h1v1h-1zM9 2h1v1h-1zM12 1h1v1h-1zM15 3h1v1h-1zM18 3h1v1h-1zM19 3h1v1h-1zM21 3h1v1h-1zM24 3h1v1h-1zM27 1h1v1h-1zM28 1h1v1h-1zM28 3h1v1h-1zM30 3h1v1h-1zM31 2h1v1h-1zM31 3h1v1h-1zM33 2h1v1h-1zM34 1h1v1h-1zM34 2h1v1h-1zM36 2h1v1h-1zM40 3h1v1h-1zM42 1h1v1h-1zM48 2h1v1h-1zM55 1h1v1h-1zM55 3h1v1h-1zM57 2h1v1h-1zM61 3h1v1h-1z"/><path fill-opacity="0.1" d="M1 0h1v1h-1zM1 3h1v1h-1zM3 0h1v1h-1zM5 0h1v1h-1zM6 0h1v1h-1zM6 2h1v1h-1zM7 1h1v1h-1zM7 2h1v1h-1zM8 0h1v1h-1zM9 0h1v1h-1zM10 1h1v1h-1zM16 2h1v1h-1zM18 0h1v1h-1zM19 0h1v1h-1zM22 0h1v1h-1zM24 2h1v1h-1zM25 3h1v1h-1zM27 2h1v1h-1zM28 2h1v1h-1zM30 0h1v1h-1zM31 0h1v1h-1zM33 0h1v1h-1zM33 3h1v1h-1zM34 0h1v1h-1zM35 0h1v1h-1zM36 3h1v1h-1zM39 3h1v1h-1zM40 0h1v1h-1zM40 2h1v1h-1zM42 3h1v1h-1zM43 1h1v1h-1zM43 2h1v1h-1zM49 2h1v1h-1zM50 0h1v1h-1zM56 0h1v1h-1zM57 0h1v1h-1zM58 1h1v1h-1zM58 3h1v1h-1zM60 1h1v1h-1zM61 0h1v1h-1zM62 0h1v1h-1z"/><path fill-opacity="0.06" d="M2 1h1v1h-1zM2 2h1v1h-1zM5 1h1v1h-1zM5 2h1v1h-1zM8 1h1v1h-1zM8 2h1v1h-1zM11 1h1v1h-1zM11 2h1v1h-1zM11 3h1v1h-1zM14 2h1v1h-1zM14 3h1v1h-1zM20 1h1v1h-1zM23 1h1v1h-1zM26 3h1v1h-1zM29 3h1v1h-1zM32 2h1v1h-1zM38 1h1v1h-1zM38 2h1v1h-1zM62 2h1v1h-1z"/><path fill-opacity="0.45" d="M2 3h1v1h-1zM17 2h1v1h-1zM26 1h1v1h-1zM29 1h1v1h-1zM29 2h1v1h-1zM32 1h1v1h-1zM32 3h1v1h-1zM35 2h1v1h-1zM35 3h1v1h-1zM41 2h1v1h-1zM41 3h1v1h-1zM56 2h1v1h-1zM56 3h1v1h-1zM59 2h1v1h-1zM62 1h1v1h-1zM62 3h1v1h-1z"/><path fill-opacity="0.3" d="M3 1h1v1h-1zM3 2h1v1h-1zM6 1h1v1h-1zM7 3h1v1h-1zM9 1h1v1h-1zM9 3h1v1h-1zM12 3h1v1h-1zM13 1h1v1h-1zM15 1h1v1h-1zM15 2h1v1h-1zM16 3h1v1h-1zM21 1h1v1h-1zM21 2h1v1h-1zM22 2h1v1h-1zM24 1h1v1h-1zM25 1h1v1h-1zM25 2h1v1h-1zM27 3h1v1h-1zM30 1h1v1h-1zM36 1h1v1h-1zM37 3h1v1h-1zM39 1h1v1h-1zM42 2h1v1h-1zM48 1h1v1h-1zM49 3h1v1h-1zM54 1h1v1h-1zM54 3h1v1h-1zM55 2h1v1h-1zM57 1h1v1h-1zM58 2h1v1h-1z"/><path fill-opacity="0.7" d="M5 3h1v1h-1zM20 3h1v1h-1zM26 2h1v1h-1zM35 1h1v1h-1zM38 3h1v1h-1zM44 1h1v1h-1zM44 3h1v1h-1zM50 2h1v1h-1zM59 1h1v1h-1zM59 3h1v1h-1z"/><path fill-opacity="0.25" d="M7 0h1v1h-1zM8 3h1v1h-1zM10 0h1v1h-1zM14 1h1v1h-1zM17 1h1v1h-1zM17 3h1v1h-1zM20 2h1v1h-1zM23 2h1v1h-1zM23 3h1v1h-1zM25 0h1v1h-1zM29 0h1v1h-1zM41 0h1v1h-1zM41 1h1v1h-1zM44 2h1v1h-1zM48 0h1v1h-1zM50 1h1v1h-1zM50 3h1v1h-1zM56 1h1v1h-1zM58 0h1v1h-1z"/><path fill-opacity="0.6" d="M45 3h1v1h-1zM51 3h1v1h-1z"/></g></pattern><pattern id="tp23" patternUnits="userSpaceOnUse" x="51" y="2" width="63" height="4"><g fill="#333333"><path fill-opacity="0.1" d="M0 0h1v1h-1zM3 1h1v1h-1zM3 2h1v1h-1zM4 2h1v1h-1zM5 0h1v1h-1zM9 0h1v1h-1zM13 1h1v1h-1zM18 0h1v1h-1zM18 3h1v1h-1zM19 1h1v1h-1zM19 3h1v1h-1zM27 0h1v1h-1zM30 0h1v1h-1zM31 3h1v1h-1zM33 3h1v1h-1zM34 0h1v1h-1zM35 0h1v1h-1zM38 0h1v1h-1zM39 3h1v1h-1zM42 0h1v1h-1zM42 1h1v1h-1zM42 2h1v1h-1zM43 0h1v1h-1zM49 0h1v1h-1zM49 2h1v1h-1zM50 0h1v1h-1zM51 2h1v1h-1zM53 0h1v1h-1zM55 0h1v1h-1zM55 2h1v1h-1zM58 0h1v1h-1zM58 2h1v1h-1zM59 0h1v1h-1zM60 0h1v1h-1z"/><path fill-opacity="0.78" d="M0 1h1v1h-1zM0 2h1v1h-1zM1 1h1v1h-1zM1 3h1v1h-1zM4 3h1v1h-1zM10 2h1v1h-1zM12 1h1v1h-1zM13 3h1v1h-1zM18 1h1v1h-1zM18 2h1v1h-1zM25 2h1v1h-1zM25 3h1v1h-1zM27 1h1v1h-1zM27 3h1v1h-1zM30 1h1v1h-1zM31 1h1v1h-1zM33 1h1v1h-1zM34 1h1v1h-1zM34 3h1v1h-1zM36 3h1v1h-1zM37 3h1v1h-1zM40 1h1v1h-1zM40 2h1v1h-1zM43 1h1v1h-1zM48 1h1v1h-1zM48 2h1v1h-1zM52 2h1v1h-1zM54 2h1v1h-1zM61 3h1v1h-1z"/><path fill-opacity="0.3" d="M0 3h1v1h-1zM1 2h1v1h-1zM9 2h1v1h-1zM9 3h1v1h-1zM13 2h1v1h-1zM24 1h1v1h-1zM24 2h1v1h-1zM25 1h1v1h-1zM28 1h1v1h-1zM28 2h1v1h-1zM30 2h1v1h-1zM33 2h1v1h-1zM39 1h1v1h-1zM39 2h1v1h-1zM40 3h1v1h-1zM49 1h1v1h-1zM49 3h1v1h-1zM51 1h1v1h-1zM52 3h1v1h-1zM54 1h1v1h-1zM54 3h1v1h-1zM55 3h1v1h-1zM58 1h1v1h-1zM58 3h1v1h-1zM60 2h1v1h-1z"/><path fill-opacity="0.06" d="M2 1h1v1h-1zM2 2h1v1h-1zM5 2h1v1h-1zM11 2h1v1h-1zM20 1h1v1h-1zM20 2h1v1h-1zM26 2h1v1h-1zM26 3h1v1h-1zM29 1h1v1h-1zM29 2h1v1h-1zM29 3h1v1h-1zM32 1h1v1h-1zM32 2h1v1h-1zM32 3h1v1h-1zM35 3h1v1h-1zM50 3h1v1h-1zM56 1h1v1h-1zM56 3h1v1h-1zM62 2h1v1h-1zM62 3h1v1h-1z"/><path fill-opacity="0.45" d="M2 3h1v1h-1zM5 3h1v1h-1zM11 1h1v1h-1zM11 3h1v1h-1zM14 2h1v1h-1zM20 3h1v1h-1zM35 2h1v1h-1zM44 1h1v1h-1zM44 2h1v1h-1zM50 2h1v1h-1zM59 2h1v1h-1z"/><path fill-opacity="0.52" d="M3 3h1v1h-1zM4 1h1v1h-1zM9 1h1v1h-1zM10 1h1v1h-1zM10 3h1v1h-1zM12 2h1v1h-1zM12 3h1v1h-1zM19 2h1v1h-1zM24 3h1v1h-1zM27 2h1v1h-1zM28 3h1v1h-1zM30 3h1v1h-1zM31 2h1v1h-1zM34 2h1v1h-1zM36 1h1v1h-1zM36 2h1v1h-1zM37 1h1v1h-1zM37 2h1v1h-1zM42 3h1v1h-1zM43 2h1v1h-1zM43 3h1v1h-1zM48 3h1v1h-1zM51 3h1v1h-1zM52 1h1v1h-1zM55 1h1v1h-1zM57 1h1v1h-1zM57 2h1v1h-1zM57 3h1v1h-1zM60 1h1v1h-1zM60 3h1v1h-1zM61 1h1v1h-1zM61 2h1v1h-1z"/><path fill-opacity="0.25" d="M4 0h1v1h-1zM10 0h1v1h-1zM14 0h1v1h-1zM14 1h1v1h-1zM14 3h1v1h-1zM20 0h1v1h-1zM24 0h1v1h-1zM25 0h1v1h-1zM26 1h1v1h-1zM39 0h1v1h-1zM41 1h1v1h-1zM41 2h1v1h-1zM50 1h1v1h-1zM53 3h1v1h-1zM54 0h1v1h-1zM56 2h1v1h-1zM59 3h1v1h-1zM62 0h1v1h-1zM62 1h1v1h-1z"/><path fill-opacity="0.7" d="M5 1h1v1h-1zM35 1h1v1h-1zM38 1h1v1h-1zM38 2h1v1h-1zM38 3h1v1h-1zM41 3h1v1h-1zM44 3h1v1h-1zM53 1h1v1h-1zM53 2h1v1h-1zM59 1h1v1h-1z"/><path fill-opacity="0.6" d="M6 3h1v1h-1zM15 3h1v1h-1zM21 3h1v1h-1zM45 3h1v1h-1z"/></g></pattern><pattern id="tp24" patternUnits="userSpaceOnUse" x="5" y="2" width="63" height="4"><g fill="#333333"><path fill-opacity="0.52" d="M0 1h1v1h-1zM0 2h1v1h-1zM3 3h1v1h-1zM4 2h1v1h-1zM6 3h1v1h-1zM9 3h1v1h-1zM10 3h1v1h-1zM13 2h1v1h-1zM15 2h1v1h-1zM18 1h1v1h-1zM19 1h1v1h-1zM19 2h1v1h-1zM25 1h1v1h-1zM25 2h1v1h-1zM27 2h1v1h-1zM27 3h1v1h-1zM28 1h1v1h-1zM28 2h1v1h-1zM28 3h1v1h-1zM36 3h1v1h-1zM39 1h1v1h-1zM40 1h1v1h-1zM40 2h1v1h-1zM42 1h1v1h-1zM43 1h1v1h-1zM45 1h1v1h-1zM45 2h1v1h-1zM49 1h1v1h-1zM49 2h1v1h-1zM51 1h1v1h-1zM51 3h1v1h-1zM52 2h1v1h-1zM55 1h1v1h-1zM55 2h1v1h-1zM55 3h1v1h-1zM57 2h1v1h-1zM58 1h1v1h-1zM58 3h1v1h-1zM60 2h1v1h-1z"/><path fill-opacity="0.78" d="M0 3h1v1h-1zM1 1h1v1h-1zM1 2h1v1h-1zM1 3h1v1h-1zM4 1h1v1h-1zM6 2h1v1h-1zM7 3h1v1h-1zM9 1h1v1h-1zM9 2h1v1h-1zM12 1h1v1h-1zM13 3h1v1h-1zM15 1h1v1h-1zM16 2h1v1h-1zM18 3h1v1h-1zM21 2h1v1h-1zM22 1h1v1h-1zM22 2h1v1h-1zM22 3h1v1h-1zM24 3h1v1h-1zM25 3h1v1h-1zM36 1h1v1h-1zM36 2h1v1h-1zM37 1h1v1h-1zM37 2h1v1h-1zM37 3h1v1h-1zM40 3h1v1h-1zM42 2h1v1h-1zM42 3h1v1h-1zM43 3h1v1h-1zM45 3h1v1h-1zM46 2h1v1h-1zM46 3h1v1h-1zM48 1h1v1h-1zM51 2h1v1h-1zM57 1h1v1h-1zM57 3h1v1h-1zM61 2h1v1h-1zM61 3h1v1h-1z"/><path fill-opacity="0.1" d="M2 0h1v1h-1zM5 0h1v1h-1zM6 0h1v1h-1zM7 0h1v1h-1zM9 0h1v1h-1zM13 0h1v1h-1zM13 1h1v1h-1zM14 0h1v1h-1zM15 3h1v1h-1zM16 1h1v1h-1zM16 3h1v1h-1zM18 0h1v1h-1zM18 2h1v1h-1zM19 0h1v1h-1zM21 0h1v1h-1zM21 1h1v1h-1zM22 0h1v1h-1zM23 0h1v1h-1zM24 0h1v1h-1zM27 0h1v1h-1zM27 1h1v1h-1zM36 0h1v1h-1zM39 2h1v1h-1zM40 0h1v1h-1zM42 0h1v1h-1zM48 0h1v1h-1zM48 3h1v1h-1zM52 0h1v1h-1zM52 1h1v1h-1zM54 2h1v1h-1zM55 0h1v1h-1zM60 0h1v1h-1zM60 1h1v1h-1z"/><path fill-opacity="0.45" d="M2 1h1v1h-1zM14 1h1v1h-1zM14 2h1v1h-1zM20 1h1v1h-1zM23 3h1v1h-1zM26 3h1v1h-1zM38 1h1v1h-1zM41 2h1v1h-1zM47 2h1v1h-1zM47 3h1v1h-1zM50 2h1v1h-1z"/><path fill-opacity="0.7" d="M2 2h1v1h-1zM29 2h1v1h-1zM56 1h1v1h-1zM59 2h1v1h-1zM62 1h1v1h-1z"/><path fill-opacity="0.25" d="M2 3h1v1h-1zM5 2h1v1h-1zM8 2h1v1h-1zM11 1h1v1h-1zM11 2h1v1h-1zM11 3h1v1h-1zM16 0h1v1h-1zM17 1h1v1h-1zM17 2h1v1h-1zM17 3h1v1h-1zM20 3h1v1h-1zM23 1h1v1h-1zM23 2h1v1h-1zM26 1h1v1h-1zM26 2h1v1h-1zM38 0h1v1h-1zM38 2h1v1h-1zM41 1h1v1h-1zM41 3h1v1h-1zM43 0h1v1h-1zM44 1h1v1h-1zM46 0h1v1h-1zM47 0h1v1h-1zM47 1h1v1h-1zM51 0h1v1h-1zM53 1h1v1h-1zM53 3h1v1h-1zM54 0h1v1h-1zM56 2h1v1h-1zM56 3h1v1h-1zM59 1h1v1h-1zM59 3h1v1h-1zM61 0h1v1h-1zM62 0h1v1h-1z"/><path fill-opacity="0.3" d="M3 1h1v1h-1zM3 2h1v1h-1zM4 3h1v1h-1zM6 1h1v1h-1zM7 1h1v1h-1zM7 2h1v1h-1zM10 1h1v1h-1zM10 2h1v1h-1zM12 2h1v1h-1zM12 3h1v1h-1zM19 3h1v1h-1zM21 3h1v1h-1zM24 1h1v1h-1zM24 2h1v1h-1zM39 3h1v1h-1zM43 2h1v1h-1zM46 1h1v1h-1zM48 2h1v1h-1zM49 3h1v1h-1zM52 3h1v1h-1zM54 1h1v1h-1zM54 3h1v1h-1zM58 2h1v1h-1zM60 3h1v1h-1zM61 1h1v1h-1z"/><path fill-opacity="0.06" d="M5 1h1v1h-1zM5 3h1v1h-1zM8 1h1v1h-1zM8 3h1v1h-1zM14 3h1v1h-1zM20 2h1v1h-1zM29 1h1v1h-1zM29 3h1v1h-1zM38 3h1v1h-1zM44 2h1v1h-1zM44 3h1v1h-1zM50 1h1v1h-1zM50 3h1v1h-1zM53 2h1v1h-1zM62 2h1v1h-1zM62 3h1v1h-1z"/><path fill-opacity="0.6" d="M30 3h1v1h-1zM33 3h1v1h-1z"/></g></pattern><pattern id="tp25" patternUnits="userSpaceOnUse" x="22" y="2" width="63" height="4"><g fill="#333333"><path fill-opacity="0.25" d="M0 0h1v1h-1zM2 2h1v1h-1zM5 1h1v1h-1zM8 2h1v1h-1zM8 3h1v1h-1zM11 1h1v1h-1zM14 1h1v1h-1zM19 0h1v1h-1zM20 1h1v1h-1zM26 1h1v1h-1zM26 2h1v1h-1zM27 0h1v1h-1zM29 1h1v1h-1zM29 2h1v1h-1zM30 0h1v1h-1zM32 1h1v1h-1zM34 0h1v1h-1zM36 0h1v1h-1zM39 0h1v1h-1zM40 0h1v1h-1zM41 2h1v1h-1zM44 2h1v1h-1zM44 3h1v1h-1zM45 0h1v1h-1zM47 0h1v1h-1zM48 0h1v1h-1zM49 0h1v1h-1zM50 3h1v1h-1zM53 0h1v1h-1zM55 0h1v1h-1zM56 0h1v1h-1zM59 2h1v1h-1zM62 1h1v1h-1zM62 2h1v1h-1zM62 3h1v1h-1z"/><path fill-opacity="0.3" d="M0 1h1v1h-1zM0 2h1v1h-1zM1 3h1v1h-1zM4 3h1v1h-1zM6 2h1v1h-1zM6 3h1v1h-1zM9 3h1v1h-1zM13 2h1v1h-1zM16 1h1v1h-1zM18 1h1v1h-1zM19 3h1v1h-1zM24 1h1v1h-1zM28 1h1v1h-1zM31 1h1v1h-1zM33 3h1v1h-1zM34 1h1v1h-1zM36 1h1v1h-1zM36 3h1v1h-1zM37 3h1v1h-1zM39 3h1v1h-1zM40 1h1v1h-1zM42 1h1v1h-1zM45 2h1v1h-1zM46 1h1v1h-1zM48 2h1v1h-1zM49 1h1v1h-1zM51 2h1v1h-1zM54 1h1v1h-1zM54 2h1v1h-1zM55 1h1v1h-1zM55 3h1v1h-1zM57 1h1v1h-1zM60 3h1v1h-1zM61 1h1v1h-1zM61 3h1v1h-1z"/><path fill-opacity="0.78" d="M0 3h1v1h-1zM1 1h1v1h-1zM1 2h1v1h-1zM3 1h1v1h-1zM3 2h1v1h-1zM3 3h1v1h-1zM7 2h1v1h-1zM7 3h1v1h-1zM9 1h1v1h-1zM15 2h1v1h-1zM16 2h1v1h-1zM16 3h1v1h-1zM18 2h1v1h-1zM25 3h1v1h-1zM27 3h1v1h-1zM30 1h1v1h-1zM30 2h1v1h-1zM30 3h1v1h-1zM33 1h1v1h-1zM34 2h1v1h-1zM40 2h1v1h-1zM43 1h1v1h-1zM46 2h1v1h-1zM46 3h1v1h-1zM48 3h1v1h-1zM49 2h1v1h-1zM49 3h1v1h-1zM51 1h1v1h-1zM52 1h1v1h-1zM57 3h1v1h-1zM58 1h1v1h-1zM58 2h1v1h-1zM58 3h1v1h-1zM60 1h1v1h-1z"/><path fill-opacity="0.45" d="M2 1h1v1h-1zM5 2h1v1h-1zM8 1h1v1h-1zM14 2h1v1h-1zM17 2h1v1h-1zM20 3h1v1h-1zM29 3h1v1h-1zM32 2h1v1h-1zM35 1h1v1h-1zM35 2h1v1h-1zM35 3h1v1h-1zM38 3h1v1h-1zM44 1h1v1h-1zM47 1h1v1h-1zM47 2h1v1h-1zM47 3h1v1h-1zM50 1h1v1h-1zM56 1h1v1h-1z"/><path fill-opacity="0.06" d="M2 3h1v1h-1zM5 3h1v1h-1zM11 2h1v1h-1zM11 3h1v1h-1zM17 3h1v1h-1zM26 3h1v1h-1zM32 3h1v1h-1zM38 1h1v1h-1zM38 2h1v1h-1zM41 1h1v1h-1zM50 2h1v1h-1zM53 2h1v1h-1zM53 3h1v1h-1zM56 3h1v1h-1zM59 1h1v1h-1zM59 3h1v1h-1z"/><path fill-opacity="0.1" d="M3 0h1v1h-1zM4 0h1v1h-1zM6 1h1v1h-1zM9 0h1v1h-1zM11 0h1v1h-1zM12 1h1v1h-1zM15 0h1v1h-1zM15 1h1v1h-1zM15 3h1v1h-1zM20 0h1v1h-1zM24 3h1v1h-1zM25 2h1v1h-1zM26 0h1v1h-1zM27 1h1v1h-1zM28 2h1v1h-1zM29 0h1v1h-1zM31 0h1v1h-1zM31 3h1v1h-1zM33 2h1v1h-1zM35 0h1v1h-1zM37 0h1v1h-1zM37 1h1v1h-1zM37 2h1v1h-1zM41 0h1v1h-1zM42 0h1v1h-1zM42 3h1v1h-1zM43 0h1v1h-1zM43 3h1v1h-1zM44 0h1v1h-1zM50 0h1v1h-1zM51 0h1v1h-1zM54 0h1v1h-1zM57 0h1v1h-1zM58 0h1v1h-1zM61 0h1v1h-1zM62 0h1v1h-1z"/><path fill-opacity="0.52" d="M4 1h1v1h-1zM4 2h1v1h-1zM7 1h1v1h-1zM9 2h1v1h-1zM10 1h1v1h-1zM10 2h1v1h-1zM10 3h1v1h-1zM12 2h1v1h-1zM12 3h1v1h-1zM13 1h1v1h-1zM13 3h1v1h-1zM18 3h1v1h-1zM19 1h1v1h-1zM19 2h1v1h-1zM24 2h1v1h-1zM25 1h1v1h-1zM27 2h1v1h-1zM28 3h1v1h-1zM31 2h1v1h-1zM34 3h1v1h-1zM36 2h1v1h-1zM39 1h1v1h-1zM39 2h1v1h-1zM40 3h1v1h-1zM42 2h1v1h-1zM43 2h1v1h-1zM45 1h1v1h-1zM45 3h1v1h-1zM48 1h1v1h-1zM51 3h1v1h-1zM52 2h1v1h-1zM52 3h1v1h-1zM54 3h1v1h-1zM55 2h1v1h-1zM57 2h1v1h-1zM60 2h1v1h-1zM61 2h1v1h-1z"/><path fill-opacity="0.7" d="M14 3h1v1h-1zM17 1h1v1h-1zM20 2h1v1h-1zM41 3h1v1h-1zM53 1h1v1h-1zM56 2h1v1h-1z"/><path fill-opacity="0.6" d="M21 3h1v1h-1z"/></g></pattern><pattern id="tp30" patternUnits="userSpaceOnUse" x="0" y="3" width="63" height="4"><g fill="#333333"><path fill-opacity="0.6" d="M0 3h1v1h-1zM24 3h1v1h-1z"/><path fill-opacity="0.78" d="M3 1h1v1h-1zM7 2h1v1h-1zM9 1h1v1h-1zM12 1h1v1h-1zM12 2h1v1h-1zM12 3h1v1h-1zM13 3h1v1h-1zM18 1h1v1h-1zM19 1h1v1h-1zM21 1h1v1h-1zM21 3h1v1h-1zM22 3h1v1h-1zM27 3h1v1h-1zM30 3h1v1h-1zM31 3h1v1h-1zM33 1h1v1h-1zM34 1h1v1h-1zM36 2h1v1h-1zM36 3h1v1h-1zM37 1h1v1h-1zM37 3h1v1h-1zM39 2h1v1h-1zM40 2h1v1h-1zM40 3h1v1h-1zM42 1h1v1h-1zM42 3h1v1h-1zM45 1h1v1h-1zM45 2h1v1h-1zM45 3h1v1h-1zM48 1h1v1h-1zM48 2h1v1h-1zM51 2h1v1h-1zM51 3h1v1h-1zM54 2h1v1h-1zM54 3h1v1h-1zM55 2h1v1h-1zM58 1h1v1h-1zM60 2h1v1h-1zM61 2h1v1h-1zM61 3h1v1h-1z"/><path fill-opacity="0.52" d="M3 2h1v1h-1zM6 1h1v1h-1zM9 3h1v1h-1zM15 3h1v1h-1zM18 2h1v1h-1zM19 2h1v1h-1zM22 1h1v1h-1zM27 2h1v1h-1zM30 1h1v1h-1zM31 2h1v1h-1zM33 3h1v1h-1zM34 2h1v1h-1zM39 1h1v1h-1zM39 3h1v1h-1zM40 1h1v1h-1zM43 3h1v1h-1zM46 1h1v1h-1zM49 2h1v1h-1zM54 1h1v1h-1zM55 1h1v1h-1zM57 1h1v1h-1zM57 2h1v1h-1zM57 3h1v1h-1zM58 3h1v1h-1zM60 3h1v1h-1zM61 1h1v1h-1z"/><path fill-opacity="0.1" d="M3 3h1v1h-1zM4 3h1v1h-1zM5 0h1v1h-1zM6 0h1v1h-1zM6 3h1v1h-1zM7 0h1v1h-1zM15 0h1v1h-1zM19 3h1v1h-1zM22 2h1v1h-1zM27 1h1v1h-1zM29 0h1v1h-1zM30 2h1v1h-1zM31 1h1v1h-1zM34 0h1v1h-1zM37 0h1v1h-1zM40 0h1v1h-1zM41 0h1v1h-1zM46 2h1v1h-1zM47 0h1v1h-1zM48 3h1v1h-1zM49 0h1v1h-1zM49 3h1v1h-1zM51 0h1v1h-1zM52 2h1v1h-1zM52 3h1v1h-1zM53 0h1v1h-1zM55 3h1v1h-1zM57 0h1v1h-1zM58 0h1v1h-1zM62 0h1v1h-1z"/><path fill-opacity="0.3" d="M4 1h1v1h-1zM4 2h1v1h-1zM6 2h1v1h-1zM7 1h1v1h-1zM7 3h1v1h-1zM9 2h1v1h-1zM10 1h1v1h-1zM10 2h1v1h-1zM10 3h1v1h-1zM13 1h1v1h-1zM13 2h1v1h-1zM15 1h1v1h-1zM15 2h1v1h-1zM16 1h1v1h-1zM16 2h1v1h-1zM16 3h1v1h-1zM18 3h1v1h-1zM21 2h1v1h-1zM28 1h1v1h-1zM28 2h1v1h-1zM28 3h1v1h-1zM33 2h1v1h-1zM34 3h1v1h-1zM36 1h1v1h-1zM37 2h1v1h-1zM42 2h1v1h-1zM43 1h1v1h-1zM43 2h1v1h-1zM46 3h1v1h-1zM49 1h1v1h-1zM51 1h1v1h-1zM52 1h1v1h-1zM58 2h1v1h-1zM60 1h1v1h-1z"/><path fill-opacity="0.45" d="M5 1h1v1h-1zM11 2h1v1h-1zM17 2h1v1h-1zM20 1h1v1h-1zM23 3h1v1h-1zM35 1h1v1h-1zM41 1h1v1h-1zM44 3h1v1h-1zM47 1h1v1h-1zM47 2h1v1h-1zM62 2h1v1h-1z"/><path fill-opacity="0.06" d="M5 2h1v1h-1zM11 1h1v1h-1zM14 3h1v1h-1zM17 1h1v1h-1zM17 3h1v1h-1zM20 3h1v1h-1zM23 1h1v1h-1zM23 2h1v1h-1zM29 1h1v1h-1zM32 2h1v1h-1zM35 3h1v1h-1zM44 1h1v1h-1zM44 2h1v1h-1zM53 2h1v1h-1zM56 1h1v1h-1zM59 1h1v1h-1z"/><path fill-opacity="0.7" d="M5 3h1v1h-1zM20 2h1v1h-1zM35 2h1v1h-1zM38 2h1v1h-1zM38 3h1v1h-1zM47 3h1v1h-1zM50 3h1v1h-1zM53 1h1v1h-1zM56 2h1v1h-1zM56 3h1v1h-1zM59 2h1v1h-1z"/><path fill-opacity="0.25" d="M8 1h1v1h-1zM8 2h1v1h-1zM8 3h1v1h-1zM9 0h1v1h-1zM10 0h1v1h-1zM11 0h1v1h-1zM11 3h1v1h-1zM12 0h1v1h-1zM13 0h1v1h-1zM14 1h1v1h-1zM14 2h1v1h-1zM16 0h1v1h-1zM17 0h1v1h-1zM19 0h1v1h-1zM22 0h1v1h-1zM23 0h1v1h-1zM29 2h1v1h-1zM29 3h1v1h-1zM32 1h1v1h-1zM32 3h1v1h-1zM38 0h1v1h-1zM38 1h1v1h-1zM41 2h1v1h-1zM41 3h1v1h-1zM50 0h1v1h-1zM50 1h1v1h-1zM50 2h1v1h-1zM52 0h1v1h-1zM53 3h1v1h-1zM55 0h1v1h-1zM56 0h1v1h-1zM59 3h1v1h-1zM61 0h1v1h-1zM62 1h1v1h-1zM62 3h1v1h-1z"/></g></pattern><pattern id="tp31" patternUnits="userSpaceOnUse" x="17" y="3" width="63" height="4"><g fill="#333333"><path fill-opacity="0.78" d="M0 1h1v1h-1zM1 1h1v1h-1zM1 3h1v1h-1zM3 1h1v1h-1zM3 2h1v1h-1zM4 1h1v1h-1zM4 2h1v1h-1zM6 1h1v1h-1zM7 3h1v1h-1zM12 1h1v1h-1zM18 2h1v1h-1zM22 1h1v1h-1zM24 3h1v1h-1zM25 2h1v1h-1zM28 2h1v1h-1zM28 3h1v1h-1zM31 1h1v1h-1zM31 3h1v1h-1zM33 2h1v1h-1zM34 3h1v1h-1zM36 1h1v1h-1zM40 1h1v1h-1zM42 1h1v1h-1zM42 2h1v1h-1zM43 1h1v1h-1zM43 2h1v1h-1zM45 3h1v1h-1zM48 2h1v1h-1zM49 1h1v1h-1zM49 3h1v1h-1zM51 2h1v1h-1zM52 1h1v1h-1zM54 2h1v1h-1zM54 3h1v1h-1zM57 2h1v1h-1zM57 3h1v1h-1zM58 1h1v1h-1zM58 3h1v1h-1zM60 1h1v1h-1zM60 2h1v1h-1z"/><path fill-opacity="0.1" d="M0 2h1v1h-1zM5 0h1v1h-1zM8 0h1v1h-1zM12 2h1v1h-1zM15 0h1v1h-1zM15 1h1v1h-1zM15 2h1v1h-1zM17 0h1v1h-1zM19 2h1v1h-1zM21 3h1v1h-1zM22 0h1v1h-1zM24 0h1v1h-1zM25 1h1v1h-1zM28 1h1v1h-1zM29 0h1v1h-1zM30 3h1v1h-1zM31 2h1v1h-1zM33 1h1v1h-1zM34 1h1v1h-1zM37 2h1v1h-1zM38 0h1v1h-1zM39 3h1v1h-1zM40 3h1v1h-1zM44 0h1v1h-1zM45 2h1v1h-1zM46 2h1v1h-1zM49 0h1v1h-1zM49 2h1v1h-1zM50 0h1v1h-1zM55 0h1v1h-1zM56 0h1v1h-1zM58 0h1v1h-1zM59 0h1v1h-1zM61 0h1v1h-1zM61 3h1v1h-1z"/><path fill-opacity="0.52" d="M0 3h1v1h-1zM3 3h1v1h-1zM6 2h1v1h-1zM7 2h1v1h-1zM13 1h1v1h-1zM13 2h1v1h-1zM13 3h1v1h-1zM15 3h1v1h-1zM16 1h1v1h-1zM18 3h1v1h-1zM19 1h1v1h-1zM21 1h1v1h-1zM21 2h1v1h-1zM22 2h1v1h-1zM22 3h1v1h-1zM24 2h1v1h-1zM27 1h1v1h-1zM30 2h1v1h-1zM37 1h1v1h-1zM37 3h1v1h-1zM39 1h1v1h-1zM39 2h1v1h-1zM42 3h1v1h-1zM43 3h1v1h-1zM46 1h1v1h-1zM46 3h1v1h-1zM48 1h1v1h-1zM51 3h1v1h-1zM52 2h1v1h-1zM52 3h1v1h-1zM54 1h1v1h-1zM55 2h1v1h-1zM57 1h1v1h-1zM58 2h1v1h-1zM60 3h1v1h-1z"/><path fill-opacity="0.25" d="M1 0h1v1h-1zM5 2h1v1h-1zM8 3h1v1h-1zM13 0h1v1h-1zM14 0h1v1h-1zM14 3h1v1h-1zM18 0h1v1h-1zM20 2h1v1h-1zM23 1h1v1h-1zM26 1h1v1h-1zM26 2h1v1h-1zM26 3h1v1h-1zM35 0h1v1h-1zM35 3h1v1h-1zM36 0h1v1h-1zM37 0h1v1h-1zM40 0h1v1h-1zM41 0h1v1h-1zM41 2h1v1h-1zM48 0h1v1h-1zM50 1h1v1h-1zM51 0h1v1h-1zM52 0h1v1h-1zM56 1h1v1h-1zM57 0h1v1h-1zM62 0h1v1h-1zM62 3h1v1h-1z"/><path fill-opacity="0.3" d="M1 2h1v1h-1zM4 3h1v1h-1zM6 3h1v1h-1zM7 1h1v1h-1zM12 3h1v1h-1zM16 2h1v1h-1zM16 3h1v1h-1zM18 1h1v1h-1zM19 3h1v1h-1zM24 1h1v1h-1zM25 3h1v1h-1zM27 2h1v1h-1zM27 3h1v1h-1zM30 1h1v1h-1zM33 3h1v1h-1zM34 2h1v1h-1zM36 2h1v1h-1zM36 3h1v1h-1zM40 2h1v1h-1zM45 1h1v1h-1zM48 3h1v1h-1zM51 1h1v1h-1zM55 1h1v1h-1zM55 3h1v1h-1zM61 1h1v1h-1zM61 2h1v1h-1z"/><path fill-opacity="0.45" d="M2 1h1v1h-1zM2 2h1v1h-1zM14 1h1v1h-1zM17 2h1v1h-1zM17 3h1v1h-1zM23 3h1v1h-1zM29 3h1v1h-1zM32 2h1v1h-1zM32 3h1v1h-1zM35 1h1v1h-1zM35 2h1v1h-1zM41 1h1v1h-1zM44 1h1v1h-1zM44 2h1v1h-1zM53 2h1v1h-1zM53 3h1v1h-1zM56 2h1v1h-1zM56 3h1v1h-1zM59 1h1v1h-1zM59 2h1v1h-1zM62 2h1v1h-1z"/><path fill-opacity="0.7" d="M2 3h1v1h-1zM5 1h1v1h-1zM8 1h1v1h-1zM8 2h1v1h-1zM14 2h1v1h-1zM23 2h1v1h-1zM38 2h1v1h-1zM44 3h1v1h-1zM47 3h1v1h-1zM50 2h1v1h-1zM62 1h1v1h-1z"/><path fill-opacity="0.06" d="M5 3h1v1h-1zM17 1h1v1h-1zM20 1h1v1h-1zM20 3h1v1h-1zM29 1h1v1h-1zM29 2h1v1h-1zM32 1h1v1h-1zM38 1h1v1h-1zM38 3h1v1h-1zM41 3h1v1h-1zM47 1h1v1h-1zM47 2h1v1h-1zM50 3h1v1h-1zM53 1h1v1h-1zM59 3h1v1h-1z"/><path fill-opacity="0.6" d="M9 3h1v1h-1z"/></g></pattern><pattern id="tp32" patternUnits="userSpaceOnUse" x="34" y="3" width="63" height="4"><g fill="#333333"><path fill-opacity="0.6" d="M0 3h1v1h-1zM24 3h1v1h-1zM42 3h1v1h-1z"/><path fill-opacity="0.25" d="M3 0h1v1h-1zM4 0h1v1h-1zM11 3h1v1h-1zM14 0h1v1h-1zM17 0h1v1h-1zM17 2h1v1h-1zM23 0h1v1h-1zM23 1h1v1h-1zM29 2h1v1h-1zM33 0h1v1h-1zM34 0h1v1h-1zM35 1h1v1h-1zM38 2h1v1h-1zM39 0h1v1h-1zM41 1h1v1h-1zM41 2h1v1h-1zM41 3h1v1h-1zM47 2h1v1h-1zM50 2h1v1h-1zM50 3h1v1h-1zM53 0h1v1h-1zM56 1h1v1h-1zM56 2h1v1h-1zM56 3h1v1h-1zM58 0h1v1h-1zM59 1h1v1h-1zM60 0h1v1h-1zM61 0h1v1h-1zM62 0h1v1h-1z"/><path fill-opacity="0.1" d="M3 1h1v1h-1zM4 1h1v1h-1zM5 0h1v1h-1zM6 0h1v1h-1zM6 1h1v1h-1zM6 2h1v1h-1zM7 0h1v1h-1zM9 3h1v1h-1zM12 0h1v1h-1zM12 1h1v1h-1zM15 0h1v1h-1zM16 0h1v1h-1zM22 0h1v1h-1zM22 3h1v1h-1zM29 0h1v1h-1zM30 0h1v1h-1zM31 1h1v1h-1zM31 2h1v1h-1zM31 3h1v1h-1zM33 1h1v1h-1zM34 3h1v1h-1zM38 0h1v1h-1zM41 0h1v1h-1zM46 0h1v1h-1zM48 0h1v1h-1zM48 2h1v1h-1zM48 3h1v1h-1zM50 0h1v1h-1zM52 0h1v1h-1zM52 1h1v1h-1zM55 3h1v1h-1zM57 0h1v1h-1zM58 3h1v1h-1z"/><path fill-opacity="0.78" d="M3 2h1v1h-1zM4 2h1v1h-1zM7 1h1v1h-1zM9 1h1v1h-1zM9 2h1v1h-1zM10 3h1v1h-1zM13 1h1v1h-1zM15 1h1v1h-1zM15 2h1v1h-1zM16 1h1v1h-1zM18 1h1v1h-1zM18 3h1v1h-1zM19 2h1v1h-1zM28 1h1v1h-1zM30 1h1v1h-1zM33 3h1v1h-1zM37 1h1v1h-1zM37 2h1v1h-1zM40 3h1v1h-1zM45 1h1v1h-1zM45 2h1v1h-1zM46 1h1v1h-1zM46 2h1v1h-1zM49 3h1v1h-1zM51 1h1v1h-1zM51 2h1v1h-1zM51 3h1v1h-1zM54 2h1v1h-1zM55 2h1v1h-1zM57 1h1v1h-1zM57 2h1v1h-1zM58 1h1v1h-1zM60 2h1v1h-1zM60 3h1v1h-1zM61 3h1v1h-1z"/><path fill-opacity="0.52" d="M3 3h1v1h-1zM4 3h1v1h-1zM7 2h1v1h-1zM7 3h1v1h-1zM12 3h1v1h-1zM13 2h1v1h-1zM13 3h1v1h-1zM16 2h1v1h-1zM16 3h1v1h-1zM19 1h1v1h-1zM21 2h1v1h-1zM21 3h1v1h-1zM27 2h1v1h-1zM27 3h1v1h-1zM30 2h1v1h-1zM33 2h1v1h-1zM34 1h1v1h-1zM34 2h1v1h-1zM36 1h1v1h-1zM36 2h1v1h-1zM36 3h1v1h-1zM39 1h1v1h-1zM39 3h1v1h-1zM40 1h1v1h-1zM48 1h1v1h-1zM49 2h1v1h-1zM52 2h1v1h-1zM54 3h1v1h-1zM55 1h1v1h-1zM58 2h1v1h-1zM60 1h1v1h-1zM61 1h1v1h-1zM61 2h1v1h-1z"/><path fill-opacity="0.45" d="M5 1h1v1h-1zM8 3h1v1h-1zM11 1h1v1h-1zM14 1h1v1h-1zM17 1h1v1h-1zM23 3h1v1h-1zM32 3h1v1h-1zM38 1h1v1h-1zM38 3h1v1h-1zM50 1h1v1h-1zM53 1h1v1h-1zM53 3h1v1h-1zM59 3h1v1h-1z"/><path fill-opacity="0.06" d="M5 2h1v1h-1zM5 3h1v1h-1zM8 1h1v1h-1zM8 2h1v1h-1zM11 2h1v1h-1zM14 3h1v1h-1zM17 3h1v1h-1zM20 2h1v1h-1zM20 3h1v1h-1zM23 2h1v1h-1zM29 1h1v1h-1zM29 3h1v1h-1zM32 1h1v1h-1zM47 1h1v1h-1zM47 3h1v1h-1zM53 2h1v1h-1zM59 2h1v1h-1zM62 2h1v1h-1zM62 3h1v1h-1z"/><path fill-opacity="0.3" d="M6 3h1v1h-1zM10 1h1v1h-1zM10 2h1v1h-1zM12 2h1v1h-1zM15 3h1v1h-1zM18 2h1v1h-1zM19 3h1v1h-1zM21 1h1v1h-1zM22 1h1v1h-1zM22 2h1v1h-1zM27 1h1v1h-1zM28 2h1v1h-1zM28 3h1v1h-1zM30 3h1v1h-1zM37 3h1v1h-1zM39 2h1v1h-1zM40 2h1v1h-1zM45 3h1v1h-1zM46 3h1v1h-1zM49 1h1v1h-1zM52 3h1v1h-1zM54 1h1v1h-1zM57 3h1v1h-1z"/><path fill-opacity="0.7" d="M14 2h1v1h-1zM20 1h1v1h-1zM32 2h1v1h-1zM35 2h1v1h-1zM35 3h1v1h-1zM62 1h1v1h-1z"/></g></pattern><pattern id="tp33" patternUnits="userSpaceOnUse" x="51" y="3" width="63" height="4"><g fill="#333333"><path fill-opacity="0.25" d="M0 0h1v1h-1zM1 0h1v1h-1zM5 0h1v1h-1zM5 1h1v1h-1zM10 0h1v1h-1zM11 3h1v1h-1zM15 0h1v1h-1zM17 0h1v1h-1zM17 2h1v1h-1zM20 3h1v1h-1zM21 0h1v1h-1zM22 0h1v1h-1zM23 0h1v1h-1zM26 1h1v1h-1zM26 2h1v1h-1zM26 3h1v1h-1zM28 0h1v1h-1zM29 2h1v1h-1zM32 1h1v1h-1zM35 0h1v1h-1zM37 0h1v1h-1zM38 2h1v1h-1zM38 3h1v1h-1zM44 0h1v1h-1zM46 0h1v1h-1zM47 1h1v1h-1zM47 3h1v1h-1zM50 2h1v1h-1zM50 3h1v1h-1zM51 0h1v1h-1zM56 1h1v1h-1zM57 0h1v1h-1zM58 0h1v1h-1zM59 2h1v1h-1zM59 3h1v1h-1zM62 3h1v1h-1z"/><path fill-opacity="0.78" d="M0 1h1v1h-1zM0 3h1v1h-1zM6 2h1v1h-1zM7 1h1v1h-1zM10 1h1v1h-1zM13 1h1v1h-1zM13 2h1v1h-1zM15 3h1v1h-1zM16 1h1v1h-1zM18 1h1v1h-1zM19 1h1v1h-1zM19 3h1v1h-1zM22 1h1v1h-1zM22 2h1v1h-1zM24 1h1v1h-1zM25 2h1v1h-1zM27 3h1v1h-1zM28 1h1v1h-1zM31 2h1v1h-1zM36 3h1v1h-1zM48 2h1v1h-1zM49 1h1v1h-1zM57 2h1v1h-1zM58 1h1v1h-1zM58 2h1v1h-1zM58 3h1v1h-1zM60 3h1v1h-1zM61 3h1v1h-1z"/><path fill-opacity="0.1" d="M0 2h1v1h-1zM1 2h1v1h-1zM1 3h1v1h-1zM4 0h1v1h-1zM4 2h1v1h-1zM7 2h1v1h-1zM9 3h1v1h-1zM12 3h1v1h-1zM16 3h1v1h-1zM18 0h1v1h-1zM18 2h1v1h-1zM19 2h1v1h-1zM26 0h1v1h-1zM27 0h1v1h-1zM28 2h1v1h-1zM30 0h1v1h-1zM30 1h1v1h-1zM32 0h1v1h-1zM33 0h1v1h-1zM33 1h1v1h-1zM34 2h1v1h-1zM36 0h1v1h-1zM36 1h1v1h-1zM38 0h1v1h-1zM42 0h1v1h-1zM45 0h1v1h-1zM45 1h1v1h-1zM45 3h1v1h-1zM48 3h1v1h-1zM49 0h1v1h-1zM49 3h1v1h-1zM53 0h1v1h-1zM55 3h1v1h-1zM60 0h1v1h-1zM61 1h1v1h-1zM61 2h1v1h-1z"/><path fill-opacity="0.3" d="M1 1h1v1h-1zM3 1h1v1h-1zM3 2h1v1h-1zM3 3h1v1h-1zM6 1h1v1h-1zM6 3h1v1h-1zM9 1h1v1h-1zM9 2h1v1h-1zM10 3h1v1h-1zM12 2h1v1h-1zM13 3h1v1h-1zM15 1h1v1h-1zM15 2h1v1h-1zM16 2h1v1h-1zM21 1h1v1h-1zM21 3h1v1h-1zM22 3h1v1h-1zM24 2h1v1h-1zM25 1h1v1h-1zM27 1h1v1h-1zM27 2h1v1h-1zM30 3h1v1h-1zM31 1h1v1h-1zM34 1h1v1h-1zM37 1h1v1h-1zM42 3h1v1h-1zM43 1h1v1h-1zM43 2h1v1h-1zM51 2h1v1h-1zM52 1h1v1h-1zM54 2h1v1h-1zM55 2h1v1h-1zM57 3h1v1h-1zM60 2h1v1h-1z"/><path fill-opacity="0.45" d="M2 1h1v1h-1zM8 2h1v1h-1zM8 3h1v1h-1zM14 1h1v1h-1zM20 2h1v1h-1zM23 2h1v1h-1zM23 3h1v1h-1zM29 3h1v1h-1zM32 3h1v1h-1zM35 1h1v1h-1zM35 3h1v1h-1zM38 1h1v1h-1zM44 2h1v1h-1zM44 3h1v1h-1zM53 3h1v1h-1zM56 2h1v1h-1zM62 1h1v1h-1z"/><path fill-opacity="0.06" d="M2 2h1v1h-1zM2 3h1v1h-1zM5 2h1v1h-1zM5 3h1v1h-1zM11 1h1v1h-1zM11 2h1v1h-1zM14 2h1v1h-1zM14 3h1v1h-1zM17 1h1v1h-1zM17 3h1v1h-1zM20 1h1v1h-1zM29 1h1v1h-1zM32 2h1v1h-1zM44 1h1v1h-1zM47 2h1v1h-1zM50 1h1v1h-1zM53 1h1v1h-1zM53 2h1v1h-1zM56 3h1v1h-1zM59 1h1v1h-1z"/><path fill-opacity="0.52" d="M4 1h1v1h-1zM4 3h1v1h-1zM7 3h1v1h-1zM10 2h1v1h-1zM12 1h1v1h-1zM18 3h1v1h-1zM21 2h1v1h-1zM24 3h1v1h-1zM25 3h1v1h-1zM28 3h1v1h-1zM30 2h1v1h-1zM31 3h1v1h-1zM33 2h1v1h-1zM33 3h1v1h-1zM34 3h1v1h-1zM36 2h1v1h-1zM37 2h1v1h-1zM37 3h1v1h-1zM42 1h1v1h-1zM42 2h1v1h-1zM43 3h1v1h-1zM45 2h1v1h-1zM46 1h1v1h-1zM46 2h1v1h-1zM46 3h1v1h-1zM48 1h1v1h-1zM49 2h1v1h-1zM51 1h1v1h-1zM51 3h1v1h-1zM52 2h1v1h-1zM52 3h1v1h-1zM54 1h1v1h-1zM54 3h1v1h-1zM55 1h1v1h-1zM57 1h1v1h-1zM60 1h1v1h-1z"/><path fill-opacity="0.7" d="M8 1h1v1h-1zM23 1h1v1h-1zM35 2h1v1h-1zM62 2h1v1h-1z"/><path fill-opacity="0.6" d="M39 3h1v1h-1z"/></g></pattern><pattern id="tp34" patternUnits="userSpaceOnUse" x="5" y="3" width="63" height="4"><g fill="#333333"><path fill-opacity="0.25" d="M0 0h1v1h-1zM2 2h1v1h-1zM2 3h1v1h-1zM3 0h1v1h-1zM5 3h1v1h-1zM8 2h1v1h-1zM11 1h1v1h-1zM20 2h1v1h-1zM23 2h1v1h-1zM26 1h1v1h-1zM26 2h1v1h-1zM35 2h1v1h-1zM38 2h1v1h-1zM41 1h1v1h-1zM41 2h1v1h-1zM44 1h1v1h-1zM44 3h1v1h-1zM46 0h1v1h-1zM47 2h1v1h-1zM50 1h1v1h-1zM50 3h1v1h-1zM53 3h1v1h-1zM59 2h1v1h-1zM62 2h1v1h-1z"/><path fill-opacity="0.3" d="M0 1h1v1h-1zM1 1h1v1h-1zM1 2h1v1h-1zM1 3h1v1h-1zM3 2h1v1h-1zM9 1h1v1h-1zM13 1h1v1h-1zM18 1h1v1h-1zM21 1h1v1h-1zM24 3h1v1h-1zM30 1h1v1h-1zM30 2h1v1h-1zM36 3h1v1h-1zM39 1h1v1h-1zM40 2h1v1h-1zM42 1h1v1h-1zM46 1h1v1h-1zM49 1h1v1h-1zM49 3h1v1h-1zM54 1h1v1h-1zM54 3h1v1h-1zM55 3h1v1h-1zM58 3h1v1h-1zM61 2h1v1h-1z"/><path fill-opacity="0.52" d="M0 2h1v1h-1zM0 3h1v1h-1zM3 1h1v1h-1zM4 2h1v1h-1zM4 3h1v1h-1zM6 3h1v1h-1zM10 1h1v1h-1zM12 2h1v1h-1zM12 3h1v1h-1zM13 2h1v1h-1zM15 2h1v1h-1zM15 3h1v1h-1zM16 2h1v1h-1zM18 2h1v1h-1zM19 3h1v1h-1zM21 2h1v1h-1zM24 1h1v1h-1zM24 2h1v1h-1zM27 2h1v1h-1zM28 2h1v1h-1zM28 3h1v1h-1zM30 3h1v1h-1zM31 3h1v1h-1zM33 1h1v1h-1zM33 3h1v1h-1zM34 2h1v1h-1zM34 3h1v1h-1zM37 1h1v1h-1zM37 2h1v1h-1zM37 3h1v1h-1zM39 2h1v1h-1zM39 3h1v1h-1zM43 1h1v1h-1zM43 2h1v1h-1zM45 3h1v1h-1zM51 2h1v1h-1zM51 3h1v1h-1zM52 1h1v1h-1zM54 2h1v1h-1zM55 1h1v1h-1zM60 2h1v1h-1z"/><path fill-opacity="0.1" d="M1 0h1v1h-1zM6 0h1v1h-1zM6 2h1v1h-1zM7 2h1v1h-1zM9 0h1v1h-1zM11 0h1v1h-1zM12 0h1v1h-1zM15 0h1v1h-1zM15 1h1v1h-1zM17 0h1v1h-1zM18 0h1v1h-1zM18 3h1v1h-1zM19 0h1v1h-1zM19 1h1v1h-1zM21 0h1v1h-1zM22 1h1v1h-1zM22 2h1v1h-1zM24 0h1v1h-1zM26 0h1v1h-1zM27 0h1v1h-1zM29 0h1v1h-1zM30 0h1v1h-1zM32 0h1v1h-1zM35 0h1v1h-1zM40 0h1v1h-1zM40 1h1v1h-1zM41 0h1v1h-1zM42 0h1v1h-1zM42 3h1v1h-1zM43 0h1v1h-1zM43 3h1v1h-1zM45 0h1v1h-1zM46 3h1v1h-1zM47 0h1v1h-1zM48 0h1v1h-1zM48 1h1v1h-1zM50 0h1v1h-1zM52 2h1v1h-1zM52 3h1v1h-1zM53 0h1v1h-1zM55 0h1v1h-1zM57 0h1v1h-1zM57 1h1v1h-1zM57 3h1v1h-1zM60 0h1v1h-1zM61 1h1v1h-1z"/><path fill-opacity="0.06" d="M2 1h1v1h-1zM17 1h1v1h-1zM17 2h1v1h-1zM17 3h1v1h-1zM20 1h1v1h-1zM20 3h1v1h-1zM26 3h1v1h-1zM29 1h1v1h-1zM32 1h1v1h-1zM32 3h1v1h-1zM35 1h1v1h-1zM38 1h1v1h-1zM38 3h1v1h-1zM53 2h1v1h-1zM56 1h1v1h-1zM56 2h1v1h-1zM56 3h1v1h-1zM62 3h1v1h-1z"/><path fill-opacity="0.78" d="M3 3h1v1h-1zM4 1h1v1h-1zM6 1h1v1h-1zM7 1h1v1h-1zM7 3h1v1h-1zM9 2h1v1h-1zM9 3h1v1h-1zM10 2h1v1h-1zM10 3h1v1h-1zM12 1h1v1h-1zM13 3h1v1h-1zM16 1h1v1h-1zM16 3h1v1h-1zM19 2h1v1h-1zM21 3h1v1h-1zM22 3h1v1h-1zM25 1h1v1h-1zM25 2h1v1h-1zM25 3h1v1h-1zM27 1h1v1h-1zM27 3h1v1h-1zM28 1h1v1h-1zM31 1h1v1h-1zM31 2h1v1h-1zM33 2h1v1h-1zM34 1h1v1h-1zM36 1h1v1h-1zM36 2h1v1h-1zM40 3h1v1h-1zM42 2h1v1h-1zM45 1h1v1h-1zM45 2h1v1h-1zM46 2h1v1h-1zM48 2h1v1h-1zM48 3h1v1h-1zM49 2h1v1h-1zM51 1h1v1h-1zM55 2h1v1h-1zM57 2h1v1h-1zM58 1h1v1h-1zM58 2h1v1h-1zM60 1h1v1h-1zM60 3h1v1h-1zM61 3h1v1h-1z"/><path fill-opacity="0.7" d="M5 1h1v1h-1zM8 1h1v1h-1zM14 1h1v1h-1zM23 1h1v1h-1zM29 3h1v1h-1zM35 3h1v1h-1zM59 1h1v1h-1z"/><path fill-opacity="0.45" d="M5 2h1v1h-1zM8 3h1v1h-1zM11 2h1v1h-1zM11 3h1v1h-1zM14 2h1v1h-1zM14 3h1v1h-1zM23 3h1v1h-1zM29 2h1v1h-1zM32 2h1v1h-1zM41 3h1v1h-1zM44 2h1v1h-1zM47 1h1v1h-1zM47 3h1v1h-1zM50 2h1v1h-1zM53 1h1v1h-1zM59 3h1v1h-1zM62 1h1v1h-1z"/></g></pattern><pattern id="tp35" patternUnits="userSpaceOnUse" x="22" y="3" width="63" height="4"><g fill="#333333"><path fill-opacity="0.25" d="M0 0h1v1h-1zM4 0h1v1h-1zM5 0h1v1h-1zM5 3h1v1h-1zM7 0h1v1h-1zM8 2h1v1h-1zM10 0h1v1h-1zM12 0h1v1h-1zM17 2h1v1h-1zM20 2h1v1h-1zM23 0h1v1h-1zM23 1h1v1h-1zM26 2h1v1h-1zM26 3h1v1h-1zM27 0h1v1h-1zM29 2h1v1h-1zM29 3h1v1h-1zM34 0h1v1h-1zM35 2h1v1h-1zM36 0h1v1h-1zM40 0h1v1h-1zM41 2h1v1h-1zM42 0h1v1h-1zM44 2h1v1h-1zM47 3h1v1h-1zM48 0h1v1h-1zM50 0h1v1h-1zM56 1h1v1h-1zM59 2h1v1h-1zM62 0h1v1h-1z"/><path fill-opacity="0.78" d="M0 1h1v1h-1zM0 3h1v1h-1zM1 3h1v1h-1zM3 1h1v1h-1zM6 3h1v1h-1zM9 2h1v1h-1zM10 1h1v1h-1zM10 2h1v1h-1zM10 3h1v1h-1zM12 3h1v1h-1zM13 2h1v1h-1zM13 3h1v1h-1zM15 2h1v1h-1zM16 1h1v1h-1zM18 3h1v1h-1zM22 1h1v1h-1zM25 1h1v1h-1zM27 1h1v1h-1zM27 3h1v1h-1zM30 1h1v1h-1zM31 1h1v1h-1zM31 2h1v1h-1zM34 2h1v1h-1zM36 3h1v1h-1zM39 2h1v1h-1zM40 2h1v1h-1zM49 1h1v1h-1zM54 2h1v1h-1zM55 2h1v1h-1zM57 3h1v1h-1zM58 3h1v1h-1zM61 1h1v1h-1zM61 2h1v1h-1zM61 3h1v1h-1z"/><path fill-opacity="0.3" d="M0 2h1v1h-1zM4 3h1v1h-1zM7 2h1v1h-1zM7 3h1v1h-1zM9 1h1v1h-1zM12 1h1v1h-1zM19 1h1v1h-1zM19 2h1v1h-1zM21 1h1v1h-1zM21 3h1v1h-1zM22 3h1v1h-1zM24 2h1v1h-1zM28 3h1v1h-1zM30 3h1v1h-1zM33 3h1v1h-1zM34 3h1v1h-1zM36 1h1v1h-1zM37 2h1v1h-1zM37 3h1v1h-1zM39 1h1v1h-1zM42 1h1v1h-1zM42 2h1v1h-1zM42 3h1v1h-1zM43 1h1v1h-1zM48 3h1v1h-1zM55 3h1v1h-1zM57 1h1v1h-1zM58 1h1v1h-1zM58 2h1v1h-1zM60 1h1v1h-1zM60 2h1v1h-1z"/><path fill-opacity="0.1" d="M1 0h1v1h-1zM1 1h1v1h-1zM4 1h1v1h-1zM7 1h1v1h-1zM9 0h1v1h-1zM11 0h1v1h-1zM15 0h1v1h-1zM16 3h1v1h-1zM17 0h1v1h-1zM18 2h1v1h-1zM22 0h1v1h-1zM24 0h1v1h-1zM25 0h1v1h-1zM25 3h1v1h-1zM27 2h1v1h-1zM28 0h1v1h-1zM28 2h1v1h-1zM29 0h1v1h-1zM31 0h1v1h-1zM31 3h1v1h-1zM33 1h1v1h-1zM33 2h1v1h-1zM34 1h1v1h-1zM35 0h1v1h-1zM37 0h1v1h-1zM39 0h1v1h-1zM43 0h1v1h-1zM43 3h1v1h-1zM45 2h1v1h-1zM46 0h1v1h-1zM46 3h1v1h-1zM48 1h1v1h-1zM48 2h1v1h-1zM55 0h1v1h-1zM57 0h1v1h-1zM58 0h1v1h-1zM60 0h1v1h-1zM60 3h1v1h-1zM61 0h1v1h-1z"/><path fill-opacity="0.52" d="M1 2h1v1h-1zM3 2h1v1h-1zM3 3h1v1h-1zM4 2h1v1h-1zM6 1h1v1h-1zM6 2h1v1h-1zM9 3h1v1h-1zM12 2h1v1h-1zM13 1h1v1h-1zM15 1h1v1h-1zM15 3h1v1h-1zM16 2h1v1h-1zM18 1h1v1h-1zM19 3h1v1h-1zM21 2h1v1h-1zM22 2h1v1h-1zM24 1h1v1h-1zM24 3h1v1h-1zM25 2h1v1h-1zM28 1h1v1h-1zM30 2h1v1h-1zM36 2h1v1h-1zM37 1h1v1h-1zM39 3h1v1h-1zM40 1h1v1h-1zM40 3h1v1h-1zM43 2h1v1h-1zM45 1h1v1h-1zM45 3h1v1h-1zM46 1h1v1h-1zM46 2h1v1h-1zM49 2h1v1h-1zM49 3h1v1h-1zM54 1h1v1h-1zM54 3h1v1h-1zM55 1h1v1h-1zM57 2h1v1h-1z"/><path fill-opacity="0.45" d="M2 1h1v1h-1zM2 3h1v1h-1zM8 1h1v1h-1zM8 3h1v1h-1zM11 1h1v1h-1zM14 3h1v1h-1zM17 3h1v1h-1zM32 1h1v1h-1zM32 2h1v1h-1zM32 3h1v1h-1zM35 3h1v1h-1zM38 1h1v1h-1zM38 2h1v1h-1zM38 3h1v1h-1zM47 1h1v1h-1zM50 1h1v1h-1zM50 2h1v1h-1zM50 3h1v1h-1zM59 3h1v1h-1zM62 1h1v1h-1zM62 2h1v1h-1z"/><path fill-opacity="0.06" d="M2 2h1v1h-1zM5 1h1v1h-1zM5 2h1v1h-1zM11 2h1v1h-1zM14 1h1v1h-1zM14 2h1v1h-1zM17 1h1v1h-1zM20 3h1v1h-1zM23 2h1v1h-1zM26 1h1v1h-1zM41 1h1v1h-1zM41 3h1v1h-1zM44 1h1v1h-1zM44 3h1v1h-1zM47 2h1v1h-1zM56 2h1v1h-1zM56 3h1v1h-1z"/><path fill-opacity="0.7" d="M11 3h1v1h-1zM20 1h1v1h-1zM23 3h1v1h-1zM29 1h1v1h-1zM35 1h1v1h-1zM59 1h1v1h-1zM62 3h1v1h-1z"/><path fill-opacity="0.6" d="M51 3h1v1h-1z"/></g></pattern></defs><g fill="none" stroke="#c2c8cb" stroke-width="1" stroke-dasharray="2.5,1"><path d="M262.3,-2 L262.6,10.5 Q263,12 263.8,12.2"/><path d="M287.0,13.8 C289.50,13.8 293.50,0.3 297.0,0.3"/><path d="M287.0,13.8 C289.50,13.8 293.50,13.6 297.0,13.6"/><path d="M287.0,13.8 C289.50,13.8 293.50,26.9 297.0,26.9"/><path d="M287.0,13.8 C289.50,13.8 293.50,40.3 297.0,40.3"/><path d="M287.0,13.8 H297.0"/><path d="M154.3,-5.0 C154.32,2.50 154.22,25.83 154.40,40.00 C154.58,54.17 155.12,67.50 155.40,80.00 C155.68,92.50 155.95,106.25 156.10,115.00 C156.25,123.75 156.27,129.58 156.30,132.50"/><path d="M219.0,134.2 C221.12,134.2 224.53,53.9 227.5,53.9"/><path d="M219.0,134.2 C221.12,134.2 224.53,114.4 227.5,114.4"/><path d="M219.0,134.2 C221.12,134.2 224.53,173.3 227.5,173.3"/><path d="M219.0,134.2 C221.12,134.2 224.53,194.7 227.5,194.7"/><path d="M219.0,134.2 C221.12,134.2 224.53,214.7 227.5,214.7"/><path d="M275.0,114.4 C277.50,114.4 281.50,67.1 285.0,67.1"/><path d="M275.0,114.4 C277.50,114.4 281.50,80.3 285.0,80.3"/><path d="M275.0,114.4 C277.50,114.4 281.50,94.2 285.0,94.2"/><path d="M275.0,114.4 C277.50,114.4 281.50,107.4 285.0,107.4"/><path d="M275.0,114.4 C277.50,114.4 281.50,120.7 285.0,120.7"/><path d="M275.0,114.4 C277.50,114.4 281.50,134.0 285.0,134.0"/><path d="M275.0,114.4 C277.50,114.4 281.50,147.7 285.0,147.7"/><path d="M275.0,114.4 C277.50,114.4 281.50,161.0 285.0,161.0"/><path d="M275.0,194.7 C276.50,194.7 278.90,187.7 281.0,187.7"/><path d="M275.0,194.7 C276.50,194.7 278.90,201.7 281.0,201.7"/><path d="M149.3,522.7 C150.95,522.7 153.59,297.8 155.9,297.8"/><path d="M149.3,522.7 C150.90,522.7 153.46,439.0 155.7,439.0"/><path d="M149.3,522.7 C150.73,522.7 153.00,615.7 155.0,615.7"/><path d="M149.3,522.7 C150.90,522.7 153.46,747.6 155.7,747.6"/><path d="M147.4,522.7 H149.3"/><path d="M206.7,297.8 C208.02,297.8 210.14,230.5 212.0,230.5"/><path d="M206.7,297.8 C208.02,297.8 210.14,257.4 212.0,257.4"/><path d="M206.7,297.8 C208.02,297.8 210.14,305.0 212.0,305.0"/><path d="M206.7,297.8 C208.02,297.8 210.14,365.4 212.0,365.4"/><path d="M253.6,257.4 C254.95,257.4 257.11,244.5 259.0,244.5"/><path d="M253.6,257.4 C254.95,257.4 257.11,257.4 259.0,257.4"/><path d="M253.6,257.4 C254.95,257.4 257.11,271.0 259.0,271.0"/><path d="M246.6,305.0 C248.45,305.0 251.41,284.5 254.0,284.5"/><path d="M246.6,305.0 C248.45,305.0 251.41,297.8 254.0,297.8"/><path d="M246.6,305.0 C248.45,305.0 251.41,311.4 254.0,311.4"/><path d="M246.6,305.0 C248.45,305.0 251.41,324.7 254.0,324.7"/><path d="M263.6,365.4 C265.45,365.4 268.41,338.7 271.0,338.7"/><path d="M263.6,365.4 C265.45,365.4 268.41,351.5 271.0,351.5"/><path d="M263.6,365.4 C265.45,365.4 268.41,365.3 271.0,365.3"/><path d="M263.6,365.4 C265.45,365.4 268.41,378.3 271.0,378.3"/><path d="M263.6,365.4 C265.45,365.4 268.41,391.7 271.0,391.7"/><path d="M206.7,439.0 C208.02,439.0 210.14,412.0 212.0,412.0"/><path d="M206.7,439.0 C208.02,439.0 210.14,466.0 212.0,466.0"/><path d="M252.0,412.0 C254.50,412.0 258.50,405.2 262.0,405.2"/><path d="M252.0,412.0 C254.50,412.0 258.50,418.5 262.0,418.5"/><path d="M234.0,466.0 C236.50,466.0 240.50,432.5 244.0,432.5"/><path d="M234.0,466.0 C236.50,466.0 240.50,459.3 244.0,459.3"/><path d="M234.0,466.0 C236.50,466.0 240.50,485.8 244.0,485.8"/><path d="M234.0,466.0 C236.50,466.0 240.50,499.2 244.0,499.2"/><path d="M299.5,459.3 C300.88,459.3 303.07,445.6 305.0,445.6"/><path d="M299.5,459.3 C300.88,459.3 303.07,459.4 305.0,459.4"/><path d="M299.5,459.3 C300.88,459.3 303.07,472.7 305.0,472.7"/><path d="M216.0,615.7 C217.25,615.7 219.25,529.5 221.0,529.5"/><path d="M216.0,615.7 C217.25,615.7 219.25,630.5 221.0,630.5"/><path d="M216.0,615.7 C217.25,615.7 219.25,701.0 221.0,701.0"/><path d="M249.7,529.5 C251.27,529.5 253.79,513.4 256.0,513.4"/><path d="M249.7,529.5 C251.27,529.5 253.79,546.5 256.0,546.5"/><path d="M287.6,546.5 C289.95,546.5 293.71,526.6 297.0,526.6"/><path d="M287.6,546.5 C289.95,546.5 293.71,539.8 297.0,539.8"/><path d="M287.6,546.5 C289.95,546.5 293.71,553.2 297.0,553.2"/><path d="M287.6,546.5 C289.95,546.5 293.71,566.4 297.0,566.4"/><path d="M261.6,630.5 C263.20,630.5 265.76,586.8 268.0,586.8"/><path d="M261.6,630.5 C263.20,630.5 265.76,620.4 268.0,620.4"/><path d="M261.6,630.5 C263.20,630.5 265.76,654.3 268.0,654.3"/><path d="M261.6,630.5 C263.20,630.5 265.76,674.3 268.0,674.3"/><path d="M284.0,586.8 C286.50,586.8 290.50,580.4 294.0,580.4"/><path d="M284.0,586.8 C286.50,586.8 290.50,593.6 294.0,593.6"/><path d="M284.0,620.4 C286.50,620.4 290.50,607.2 294.0,607.2"/><path d="M284.0,620.4 C286.50,620.4 290.50,620.4 294.0,620.4"/><path d="M284.0,620.4 C286.50,620.4 290.50,633.3 294.0,633.3"/><path d="M284.0,654.3 C286.25,654.3 289.85,647.3 293.0,647.3"/><path d="M284.0,654.3 C286.25,654.3 289.85,660.7 293.0,660.7"/><path d="M258.6,701.0 C260.95,701.0 264.71,687.5 268.0,687.5"/><path d="M258.6,701.0 C260.95,701.0 264.71,701.2 268.0,701.2"/><path d="M258.6,701.0 C260.95,701.0 264.71,714.5 268.0,714.5"/><path d="M212.0,747.6 C213.50,747.6 215.90,727.7 218.0,727.7"/><path d="M212.0,747.6 C213.50,747.6 215.90,747.5 218.0,747.5"/><path d="M212.0,747.6 C213.50,747.6 215.90,767.0 218.0,767.0"/><path d="M244.0,747.5 C246.25,747.5 249.85,740.6 253.0,740.6"/><path d="M244.0,747.5 C246.25,747.5 249.85,753.9 253.0,753.9"/><path d="M156.0,902.0 C156.03,901.17 155.95,905.67 156.20,897.00 C156.45,888.33 157.12,863.67 157.50,850.00 C157.88,836.33 158.25,822.17 158.50,815.00 C158.75,807.83 158.92,808.33 159.00,807.00"/><path d="M209.5,804.5 C211.88,804.5 215.68,784.1 219.0,784.1"/><path d="M209.5,804.5 C211.88,804.5 215.68,797.4 219.0,797.4"/><path d="M209.5,804.5 C211.88,804.5 215.68,810.9 219.0,810.9"/><path d="M209.5,804.5 C211.88,804.5 215.68,824.5 219.0,824.5"/><path d="M216.2,902.0 C216.23,901.17 216.10,902.33 216.40,897.00 C216.70,891.67 217.48,876.00 218.00,870.00 C218.52,864.00 219.10,862.75 219.50,861.00 C219.90,859.25 220.25,859.75 220.40,859.50"/><path d="M253.2,857.6 C255.65,857.6 259.57,837.5 263.0,837.5"/><path d="M253.2,857.6 C255.65,857.6 259.57,851.0 263.0,851.0"/><path d="M253.2,857.6 C255.65,857.6 259.57,864.4 263.0,864.4"/><path d="M253.2,857.6 C255.65,857.6 259.57,878.0 263.0,878.0"/><path d="M296.5,902.0 C296.62,900.83 296.78,896.70 297.20,895.00 C297.62,893.30 298.37,892.42 299.00,891.80 C299.63,891.18 300.67,891.38 301.00,891.30"/></g><g fill="none" stroke="#c2c9cc" stroke-width="0.9"><path stroke-dasharray="18,6,11,4,25,7" stroke-dashoffset="0" d="M32.2,-5.0 C32.23,-0.83 32.18,-5.83 32.40,20.00 C32.62,45.83 33.13,103.33 33.50,150.00 C33.87,196.67 34.18,250.00 34.60,300.00 C35.02,350.00 35.53,400.00 36.00,450.00 C36.47,500.00 36.90,550.00 37.40,600.00 C37.90,650.00 38.48,702.17 39.00,750.00 C39.52,797.83 40.22,861.67 40.50,887.00 C40.78,912.33 40.67,899.50 40.70,902.00"/><path stroke-dasharray="13,8,21,5,9,6" stroke-dashoffset="7" d="M34.3,-5.0 C34.33,-0.83 34.28,-5.83 34.50,20.00 C34.72,45.83 35.12,103.33 35.60,150.00 C36.08,196.67 36.83,250.00 37.40,300.00 C37.97,350.00 38.33,400.00 39.00,450.00 C39.67,500.00 40.65,550.00 41.40,600.00 C42.15,650.00 42.65,702.17 43.50,750.00 C44.35,797.83 45.95,861.67 46.50,887.00 C47.05,912.33 46.75,899.50 46.80,902.00"/><path stroke-dasharray="22,5,10,7,15,4" stroke-dashoffset="14" d="M37.2,-5.0 C37.25,-0.83 37.13,-5.83 37.50,20.00 C37.87,45.83 38.57,103.33 39.40,150.00 C40.23,196.67 41.52,250.00 42.50,300.00 C43.48,350.00 44.13,400.00 45.30,450.00 C46.47,500.00 48.15,550.00 49.50,600.00 C50.85,650.00 51.65,702.17 53.40,750.00 C55.15,797.83 58.77,861.67 60.00,887.00 C61.23,912.33 60.67,899.50 60.80,902.00"/><path stroke-dasharray="12,5,19,6" stroke-dashoffset="21" d="M43.5,-5.0 C43.58,-0.83 43.33,-5.83 44.00,20.00 C44.67,45.83 46.07,103.33 47.50,150.00 C48.93,196.67 50.55,250.00 52.60,300.00 C54.65,350.00 57.90,417.50 59.80,450.00 C61.70,482.50 62.72,484.67 64.00,495.00 C65.28,505.33 66.53,507.67 67.50,512.00 C68.47,516.33 69.42,519.50 69.80,521.00"/></g><g fill="none" stroke="#c0c6c9" stroke-width="1" stroke-dasharray="1,1"><path d="M251.8,230.5 H262.2"/><path d="M280.3,324.7 H285.5"/><path d="M316.3,324.7 H323.0"/><path d="M340.5,445.6 H346.5"/><path d="M336.6,459.4 H345.7"/><path d="M283.4,674.3 H290.7"/><path d="M286.7,714.5 H296.2"/></g><g fill="none" stroke="#c6cdd0" stroke-width="1"><path d="M309.2,187.7 H319.2"/><path d="M309.2,201.7 H319.2"/><path d="M292.5,244.5 H300.5"/><path d="M280.3,311.4 H290.4"/><path d="M339.7,365.3 H349.7"/><path d="M349.2,378.3 H358.3"/><path d="M335.8,391.7 H347.0"/><path d="M255.4,727.7 H264.5"/></g><rect x="71.8" y="519.3" width="75.6" height="7" rx="1.5" fill="#fcfcfc" stroke="#cfd4d7" stroke-width="0.7" stroke-dasharray="1,1"/><path d="M73,526.5 H146.5" stroke="#a9afb3" stroke-width="0.8" stroke-dasharray="1,1" fill="none"/><g fill="#fafafa" stroke="#a2a9ad" stroke-width="0.75"><circle cx="263.8" cy="13.8" r="1.45"/><circle cx="156.3" cy="134.2" r="1.45"/><circle cx="226.3" cy="114.4" r="1.45"/><circle cx="282.8" cy="187.7" r="1.45"/><circle cx="282.8" cy="201.7" r="1.45"/><circle cx="69.8" cy="522.7" r="1.45"/><circle cx="155.9" cy="297.8" r="1.45"/><circle cx="213.7" cy="230.5" r="1.45"/><circle cx="213.7" cy="257.4" r="1.45"/><circle cx="260.4" cy="244.5" r="1.45"/><circle cx="260.7" cy="257.4" r="1.45"/><circle cx="213.5" cy="305.0" r="1.45"/><circle cx="254.4" cy="311.4" r="1.45"/><circle cx="289.2" cy="324.7" r="1.45"/><circle cx="213.2" cy="365.4" r="1.45"/><circle cx="272.4" cy="351.5" r="1.45"/><circle cx="272.4" cy="378.3" r="1.45"/><circle cx="272.4" cy="391.7" r="1.45"/><circle cx="155.7" cy="439.0" r="1.45"/><circle cx="213.8" cy="412.0" r="1.45"/><circle cx="213.8" cy="466.0" r="1.45"/><circle cx="241.3" cy="459.3" r="1.45"/><circle cx="306.8" cy="445.6" r="1.45"/><circle cx="306.8" cy="459.4" r="1.45"/><circle cx="155.0" cy="615.7" r="1.45"/><circle cx="222.9" cy="529.5" r="1.45"/><circle cx="257.0" cy="546.5" r="1.45"/><circle cx="222.9" cy="630.5" r="1.45"/><circle cx="269.5" cy="586.8" r="1.45"/><circle cx="269.5" cy="620.4" r="1.45"/><circle cx="269.5" cy="654.3" r="1.45"/><circle cx="269.5" cy="674.3" r="1.45"/><circle cx="222.9" cy="701.0" r="1.45"/><circle cx="265.6" cy="714.5" r="1.45"/><circle cx="155.7" cy="747.6" r="1.45"/><circle cx="219.5" cy="727.7" r="1.45"/><circle cx="219.5" cy="747.5" r="1.45"/><circle cx="159.0" cy="804.5" r="1.45"/><circle cx="220.4" cy="857.6" r="1.45"/></g><g fill="#333333"><rect x="268" y="11" width="16" height="4" fill="url(#tp32)"/><rect x="300" y="-2" width="18" height="4" fill="url(#tp21)"/><rect x="300" y="11" width="64" height="4" fill="url(#tp33)"/><rect x="300" y="24" width="52" height="4" fill="url(#tp05)"/><rect x="300" y="38" width="52" height="4" fill="url(#tp20)"/><rect x="160" y="132" width="55" height="4" fill="url(#tp00)"/><rect x="231" y="51" width="40" height="4" fill="url(#tp34)"/><rect x="231" y="112" width="40" height="4" fill="url(#tp00)"/><rect x="287" y="65" width="9" height="4" fill="url(#tp12)"/><rect x="287" y="78" width="8" height="4" fill="url(#tp24)"/><rect x="287" y="92" width="12" height="4" fill="url(#tp00)"/><rect x="287" y="105" width="12" height="4" fill="url(#tp14)"/><rect x="287" y="118" width="10" height="4" fill="url(#tp21)"/><rect x="287" y="132" width="8" height="4" fill="url(#tp00)"/><rect x="287" y="145" width="9" height="4" fill="url(#tp10)"/><rect x="287" y="158" width="13" height="4" fill="url(#tp23)"/><rect x="231" y="171" width="40" height="4" fill="url(#tp33)"/><rect x="231" y="192" width="40" height="4" fill="url(#tp00)"/><rect x="287" y="185" width="19" height="4" fill="url(#tp11)"/><rect x="322" y="185" width="29" height="4" fill="url(#tp10)"/><rect x="287" y="199" width="19" height="4" fill="url(#tp34)"/><rect x="322" y="199" width="99" height="4" fill="url(#tp33)"/><rect x="231" y="212" width="40" height="4" fill="url(#tp00)"/><rect x="287" y="212" width="71" height="4" fill="url(#tp04)"/><rect x="79" y="520" width="63" height="4" fill="url(#tp00)"/><rect x="160" y="295" width="42" height="4" fill="url(#tp31)"/><rect x="218" y="228" width="30" height="4" fill="url(#tp05)"/><rect x="265" y="228" width="24" height="4" fill="url(#tp05)"/><rect x="218" y="255" width="31" height="4" fill="url(#tp34)"/><rect x="265" y="242" width="24" height="4" fill="url(#tp20)"/><rect x="304" y="242" width="113" height="4" fill="url(#tp24)"/><rect x="265" y="255" width="21" height="4" fill="url(#tp34)"/><rect x="303" y="255" width="130" height="4" fill="url(#tp33)"/><rect x="265" y="268" width="62" height="4" fill="url(#tp00)"/><rect x="218" y="302" width="25" height="4" fill="url(#tp21)"/><rect x="259" y="282" width="19" height="4" fill="url(#tp20)"/><rect x="259" y="295" width="21" height="4" fill="url(#tp34)"/><rect x="259" y="309" width="18" height="4" fill="url(#tp11)"/><rect x="292" y="309" width="10" height="4" fill="url(#tp12)"/><rect x="259" y="322" width="19" height="4" fill="url(#tp23)"/><rect x="293" y="322" width="19" height="4" fill="url(#tp21)"/><rect x="327" y="322" width="41" height="4" fill="url(#tp24)"/><rect x="217" y="363" width="40" height="4" fill="url(#tp30)"/><rect x="277" y="336" width="22" height="4" fill="url(#tp04)"/><rect x="304" y="336" width="28" height="4" fill="url(#tp02)"/><rect x="299.0" y="338" width="5.5" height="1" fill-opacity="0.75"/><rect x="277" y="349" width="21" height="4" fill="url(#tp14)"/><rect x="304" y="349" width="34" height="4" fill="url(#tp15)"/><rect x="358" y="349" width="16" height="4" fill="url(#tp11)"/><rect x="277" y="363" width="21" height="4" fill="url(#tp30)"/><rect x="304" y="363" width="28" height="4" fill="url(#tp34)"/><rect x="352" y="363" width="19" height="4" fill="url(#tp34)"/><rect x="298.3" y="365" width="5.9" height="1" fill-opacity="0.75"/><rect x="277" y="376" width="21" height="4" fill="url(#tp05)"/><rect x="304" y="376" width="37" height="4" fill="url(#tp01)"/><rect x="361" y="376" width="14" height="4" fill="url(#tp02)"/><rect x="298.0" y="378" width="6.2" height="1" fill-opacity="0.75"/><rect x="277" y="389" width="21" height="4" fill="url(#tp10)"/><rect x="304" y="389" width="25" height="4" fill="url(#tp14)"/><rect x="349" y="389" width="22" height="4" fill="url(#tp15)"/><rect x="297.5" y="391" width="6.7" height="1" fill-opacity="0.75"/><rect x="160" y="436" width="42" height="4" fill="url(#tp00)"/><rect x="218" y="410" width="30" height="4" fill="url(#tp24)"/><rect x="265" y="403" width="24" height="4" fill="url(#tp30)"/><rect x="265" y="416" width="65" height="4" fill="url(#tp04)"/><rect x="218" y="464" width="13" height="4" fill="url(#tp01)"/><rect x="246" y="430" width="46" height="4" fill="url(#tp23)"/><rect x="246" y="457" width="49" height="4" fill="url(#tp15)"/><rect x="312" y="443" width="23" height="4" fill="url(#tp34)"/><rect x="352" y="443" width="28" height="4" fill="url(#tp33)"/><rect x="312" y="457" width="18" height="4" fill="url(#tp12)"/><rect x="349" y="457" width="34" height="4" fill="url(#tp13)"/><rect x="312" y="470" width="32" height="4" fill="url(#tp24)"/><rect x="348" y="470" width="31" height="4" fill="url(#tp23)"/><rect x="246" y="483" width="52" height="4" fill="url(#tp32)"/><rect x="246" y="497" width="49" height="4" fill="url(#tp12)"/><rect x="160" y="613" width="52" height="4" fill="url(#tp11)"/><rect x="227" y="527" width="17" height="4" fill="url(#tp31)"/><rect x="262" y="511" width="18" height="4" fill="url(#tp35)"/><rect x="262" y="544" width="21" height="4" fill="url(#tp01)"/><rect x="299" y="524" width="37" height="4" fill="url(#tp00)"/><rect x="299" y="537" width="43" height="4" fill="url(#tp14)"/><rect x="299" y="551" width="53" height="4" fill="url(#tp32)"/><rect x="299" y="564" width="34" height="4" fill="url(#tp04)"/><rect x="227" y="628" width="31" height="4" fill="url(#tp03)"/><rect x="274" y="584" width="6" height="4" fill="url(#tp02)"/><rect x="296" y="578" width="25" height="4" fill="url(#tp25)"/><rect x="296" y="591" width="56" height="4" fill="url(#tp33)"/><rect x="274" y="618" width="6" height="4" fill="url(#tp22)"/><rect x="296" y="605" width="68" height="4" fill="url(#tp14)"/><rect x="296" y="618" width="124" height="4" fill="url(#tp20)"/><rect x="296" y="631" width="56" height="4" fill="url(#tp30)"/><rect x="274" y="652" width="6" height="4" fill="url(#tp04)"/><rect x="295" y="645" width="45" height="4" fill="url(#tp13)"/><rect x="295" y="658" width="67" height="4" fill="url(#tp21)"/><rect x="274" y="672" width="6" height="4" fill="url(#tp02)"/><rect x="295" y="672" width="54" height="4" fill="url(#tp01)"/><rect x="227" y="698" width="28" height="4" fill="url(#tp23)"/><rect x="271" y="685" width="12" height="4" fill="url(#tp13)"/><rect x="271" y="699" width="12" height="4" fill="url(#tp30)"/><rect x="271" y="712" width="12" height="4" fill="url(#tp05)"/><rect x="298" y="712" width="44" height="4" fill="url(#tp00)"/><rect x="160" y="745" width="48" height="4" fill="url(#tp14)"/><rect x="224" y="725" width="28" height="4" fill="url(#tp14)"/><rect x="268" y="725" width="34" height="4" fill="url(#tp12)"/><rect x="224" y="745" width="15" height="4" fill="url(#tp12)"/><rect x="255" y="738" width="47" height="4" fill="url(#tp25)"/><rect x="255" y="751" width="87" height="4" fill="url(#tp32)"/><rect x="224" y="764" width="21" height="4" fill="url(#tp04)"/><rect x="164" y="802" width="42" height="4" fill="url(#tp23)"/><rect x="222" y="782" width="37" height="4" fill="url(#tp24)"/><rect x="222" y="795" width="37" height="4" fill="url(#tp33)"/><rect x="222" y="808" width="43" height="4" fill="url(#tp00)"/><rect x="222" y="822" width="43" height="4" fill="url(#tp20)"/><rect x="225" y="855" width="24" height="4" fill="url(#tp32)"/><rect x="266" y="835" width="46" height="4" fill="url(#tp33)"/><rect x="266" y="848" width="40" height="4" fill="url(#tp05)"/><rect x="266" y="862" width="18" height="4" fill="url(#tp25)"/><rect x="266" y="876" width="28" height="4" fill="url(#tp00)"/><rect x="303" y="889" width="12" height="4" fill="url(#tp10)"/></g></svg>
<div class="bar" style="left:0;width:6px"></div>
<div class="bar" style="left:655px;width:6px"></div>
</body></html>
